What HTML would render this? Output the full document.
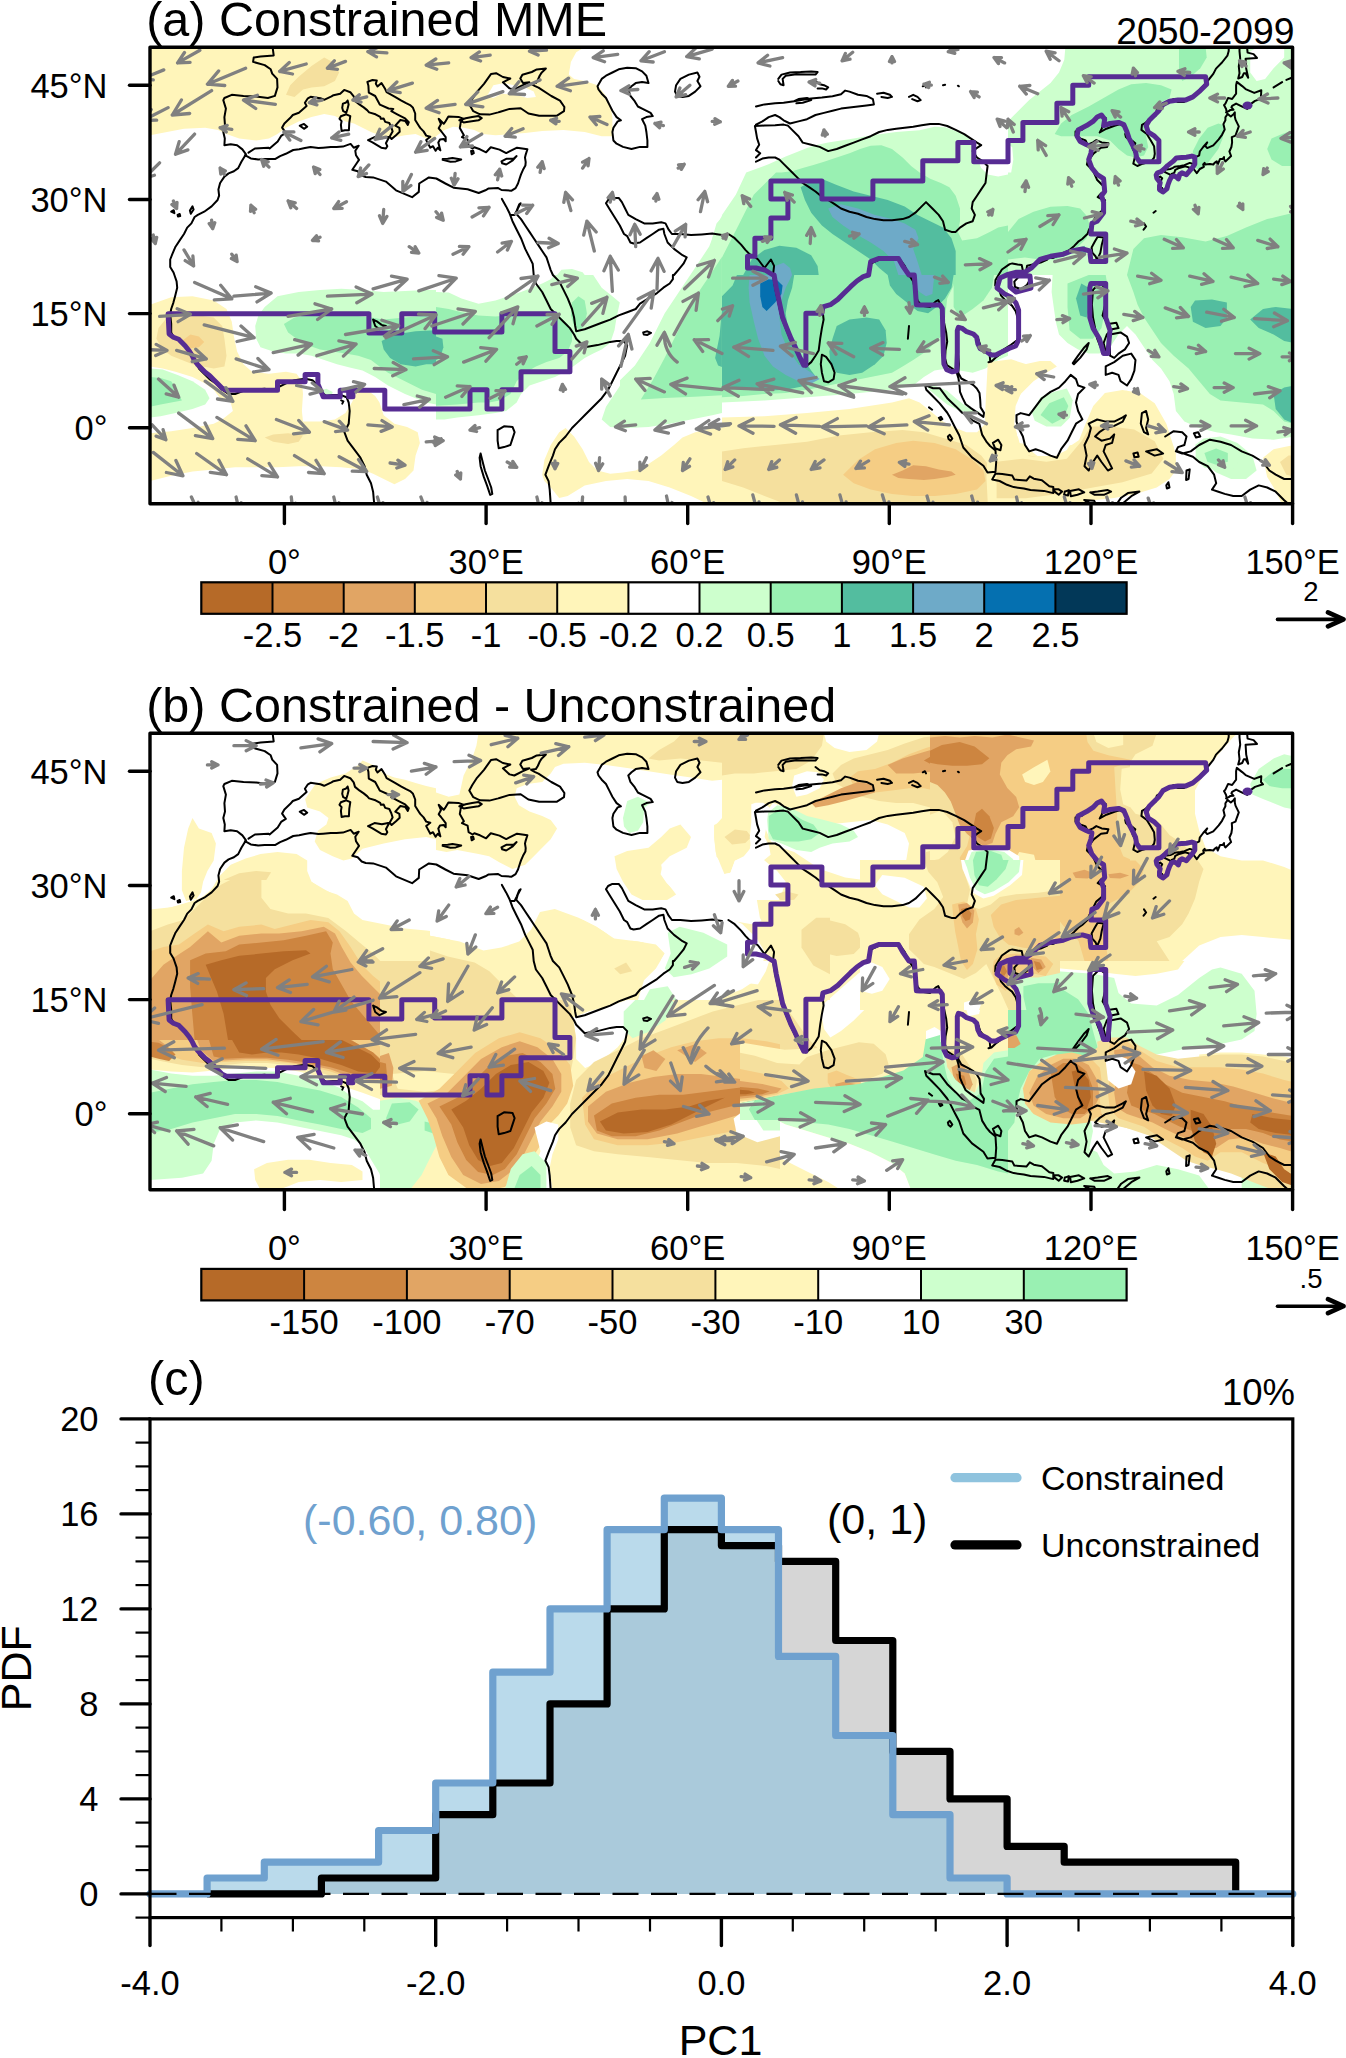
<!DOCTYPE html><html><head><meta charset="utf-8"><style>html,body{margin:0;padding:0;background:#fff;overflow:hidden}svg{display:block}text{font-family:"Liberation Sans", sans-serif}</style></head><body>
<svg width="1346" height="2058" viewBox="0 0 1346 2058">
<defs>
<g id="coast"><path d="M272.8,48.7L273.7,55.5L260.5,56.6L253.7,57.6L253.1,61.9L264.7,65.1L270.7,69.3L272.2,73.6L277.1,78.9L277.5,87.4L274.9,95.9L267.9,98L256.2,96.5L243.5,95.9L231.8,94.8L224.4,98L223.3,100.1L225.9,108.6L224.4,117.1L225,125.6L223.3,132L224.8,138.4L224.4,145.2L230.7,144.3L237.1,145.2L242.4,149.4L246,154.3M246,154.3L241.4,161.7L238.2,168.1L233.9,171.3L228.6,173.4L224.4,176.6L220.1,183L218.4,189.4L219.1,195.7L217.6,200L211.6,206.4L204.2,211.7L197.8,214.9L194.6,217L191.4,223.4L187.2,227.6L184,234L179.7,240.4L175.5,246.7L172.3,254.2L170.2,259.5L170.2,266.9L173.4,272.2L174.4,275M459.4,120.3L465.7,118.2L472.1,117.1L478.5,116.1L481.7,118.2L478.5,120.3L470,121.4L463.6,122.4L459.4,120.3M501.9,198.9L506.1,206.4L509.3,212.7L512.5,221.2L516.7,229.7L521,238.2L525.2,248.9L529.5,257.4L532.7,263.7L533.7,275M511.4,214.9L514.6,214.9L516.7,210.6L519.3,204.2L520.6,203.2L517.8,208.5L516.3,213.8L521,219.1L525.2,225.5L529.5,231.9L533.7,238.2L538,244.6L542.2,251L546.5,257.4L548.6,263.7L550.7,270.1L552.9,275M606,203.2L608.1,200L612.4,197.9L618.7,197.9L621.9,202.1L625.1,208.5L628.3,214.9L635.7,219.1L644.2,223.4L652.7,223.4L661.2,222.3L665.5,223.4L668.7,229.7L671.9,234L680.4,234L691,235L701.6,234.4L712.2,233.6L722,235M606,203.2L609.2,208.5L614.5,217L619.8,225.5L624,234L627.2,236.1L630.4,242.5L633.6,243.5L640,242.5L646.4,238.2L652.7,234L659.1,229.7L663.4,228.7L664.4,234L667.6,242.5L674,248.9L682.5,255.2L686.7,257.4L683.5,263.7L678.2,270.1L674,275M778.3,78.9L781.5,74.6L790,72.5L800.6,72.1L811.2,71.4L817.6,72.1L815.5,74.6L807,74.6L796.4,74.2L785.7,75.7L782.6,78.9L783.6,85.2L780.4,84.2L778.3,81M815.5,81L819.7,84.2L824,85.2L828.2,87.4L826.1,89.5L821.9,88.4L817.6,88.4M756,106.5L764.5,104.4L775.1,103.3L783.6,102.7L794.2,101.2L802.7,99.7L811.2,98.4L821.9,97.6L832.5,96.3L841,94.2L845.2,90.6L849.5,91.6L858,94.8L866.5,95.9L872.9,99.1L873.9,104.4L866.5,105.4L858,106.5L849.5,107.6L841,108.6L832.5,110.7L824,112.9L815.5,115L807,119.2L798.5,121.4L790,123.5L783.6,120.3L779.4,117.1L775.1,115L768.7,117.1L762.4,121.4L756,124.6M794.2,101.2L798.5,99.1L807,98L811.2,100.1L802.7,102.7L796.4,103.3M877.1,93.7L883.5,92.7L889.9,94.8L892,96.9L887.7,98L881.4,96.9M909,96.9L913.2,94.8L917.5,96.9L920.7,100.1L917.5,101.2L912.2,99.1M922.8,86.3L924.9,85.2L926,87.4M943,85.2L945.1,84.8M957.9,85.7L958.9,86.3M787.9,125.6L792.1,129.9L798.5,136.2L802.7,142.6L811.2,144.7L819.7,146.9L828.2,151.1L836.7,149L845.2,145.8L853.7,142.6L862.2,139.4L870.7,136.2L879.2,132L887.7,129.9L896.2,128.8L904.7,127.7L913.2,126.7L921.7,125.2L930.2,123.9L938.7,123.9L947.2,126L955.7,129.9L964.2,134.1L970.6,138.4L977,142.6L981.2,145.2L977,147.9L972.7,151.1L977,157.5L983.4,161.7L987.6,166L986.5,174.5L985.5,183L981.2,189.4L977,195.7L972.7,202.1L971.7,208.5L974.9,214.9L972.7,221.2L966.4,223.4L960,227.6L955.7,231.9L951.5,231.9L945.1,229.7L943,221.2L938.7,214.9L932.4,208.5L926,202.1L921.7,206.4L915.4,212.7L909,217L902.6,219.1L892,220.2L883.5,220.2L875,219.1L866.5,217L858,213.8L849.5,211.7L841,208.5L834.6,204.2L828.2,200L821.9,196.8L815.5,191.5L809.1,187.2L802.7,183L796.4,176.6L790,170.2L783.6,163.9L779.4,159.6L775.1,157.5L768.7,157.5L762.4,158.6L756,161.7M787.9,125.6L783.6,124.6L775.1,125.2L764.5,125.6L754.9,126L756,132L757.1,138.4L759.2,144.7L756,150.1L760.2,153.2L756,157.5M728.4,234L734.7,238.2L741.1,244.6L745.4,249.9L749.6,254.2L753.9,256.3L758.1,259.5L764.5,268L770.9,259.5L774.1,265.9L773,275M868.6,275L870.7,263.7L879.2,259.5L889.9,258.4L898.4,257.4L904.7,265.9L909,275M1273.6,87.4L1282.1,82.1M1286.4,79.9L1291.7,77.8M1153.5,212.7L1155.7,211M1144,223.4L1146.1,226.5L1143.6,229.7M174.4,275L176.6,281.4L177.2,287.7L175.1,296.2L173.4,302.6L171.2,309L170.2,314.3L171.2,323.9L171.2,332.4L173.4,336.6L179.7,340.9L186.1,347.2L192.5,355.7L196.7,362.1L198.9,368.5L203.1,372.7L209.5,379.1L215.9,383.4L222.2,389.7L228.6,394L235,394L243.5,390.8L254.1,389.7L264.7,388.7L271.1,390.8L277.5,387.6L286,383.4L294.5,380.2L305.1,378.7L312.5,380.2L317.9,385.5L322.1,392.9L326.4,396.1L332.7,395.1L341.2,395.1L346.5,397.2L348.7,402.5L349.7,411L348.7,423.7L344.4,432.2L347.6,440.7L354,449.2L360.4,457.7L364.6,466.2L366.7,474.7L371,483.2L373.1,491.7L374.2,504.1M373.1,319.6L377.4,321.7L381.6,324.9L385.9,326L379.5,329.2L375.2,326L373.1,319.6M341.2,400.4L343.4,401.4L342.3,403.6M533.7,275L535.9,283.5L542.2,292L546.5,300.5L550.7,309L557.1,315.4L563.5,321.7L569.9,328.1L574.1,334.5L576.2,338.7L584.7,347.2L597.5,345.1L610.2,341.9L616.6,340.9L623,340.9L627.2,345.1L625.1,355.7L620.9,364.2L616.6,372.7L612.4,381.2L608.1,389.7L601.7,398.2L593.2,406.7L584.7,415.2L578.4,421.6L572,428L565.6,436.5L559.2,442.9L555,449.2L552.9,455.6L548.6,466.2L545.4,474.7L548.6,481.1L549.7,489.6L550.7,504.1M552.9,275L559.2,281.4L563.5,289.9L567.7,298.4L572,309L574.1,317.5L575.2,326L576.2,331.3L584.7,329.2L593.2,326L601.7,322.8L610.2,319.6L618.7,315.4L627.2,312.2L635.7,309L640,303.7L648.5,298.4L657,293.1L663.4,287.7L669.7,283.5L672.9,279.2L672.9,275M497.6,430.1L504,426.3L512.5,426.9L514.6,432.2L512.5,438.6L510.4,445L504,447.1L498.7,448.2L497.6,440.7L497.6,430.1M480.6,453.5L482.7,462L484.9,470.5L488.1,479L491.2,487.5L492.3,493.9L490.2,494.9L487,485.4L483.8,476.9L480.6,466.2L479.6,457.7L480.6,453.5M773,275L775.1,287.7L778.3,302.6L781.5,317.5L785.7,328.1L790,338.7L794.2,347.2L798.5,355.7L802.7,364.2L805.9,366.4L811.2,362.1L815.5,355.7L818.7,350.4L820.2,338.7L821.9,328.1L823.6,319.6L822.9,313.2L824,306.9L830.4,304.7L836.7,300.5L843.1,294.1L849.5,287.7L855.9,281.4L862.2,277.1L868.6,275M909,275L913.2,281.4L915.4,292L917.5,300.5L921.7,305.8L930.2,306.9L935.5,301.6L938.3,300.1L940.6,305L942.3,312.8L943.8,321.7L946.2,332.8L947.2,341.7L945.5,350.6L945.1,358.5L946.8,365.1L952.3,368.5L956.8,373L958.5,378.5L959.6,386.3L960,391.9L962.3,397.4L965.7,404.2L971.2,408.4L977.8,412.9L983.4,416.9L984,412.9L980.6,407.4L980.2,399.7L979.5,392.9L976.8,388.5L973.4,385.1L967.8,381.9L961.3,378.5L958.3,373L958.9,364L958.3,356.2L957.2,347.2L956.8,337.3L957.2,329.6L959.6,326.8L962.3,327.3L965.7,330.7L970,332.8L975.7,335.1L978.5,339.6L980.2,345.1L984.6,350.6L989.5,353L990.2,360.6M909,326L907.9,338.7M929,407.4L932.1,409.7M1016.5,415.2L1020.7,413.1L1029.2,415.2L1035.6,406.7L1042,398.2L1050.5,391.9L1059,387.6L1065.4,381.2L1070.7,374.9L1076,379.1L1078.1,385.5L1084.5,387.6L1078.1,394L1076,402.5L1078.1,411L1082.4,419.5L1076,423.7L1071.7,432.2L1067.5,440.7L1061.1,449.2L1056.9,457.7L1050.5,455.6L1042,451.4L1035.6,449.2L1029.2,451.4L1025,445L1022.9,436.5L1018.6,428L1016.5,421.6L1016.5,415.2M1088.7,423.7L1097.2,419.5L1105.7,421.6L1114.2,421.6L1122.7,417.4L1125.9,415.2L1122.7,421.6L1114.2,425.9L1105.7,428L1099.4,432.2L1095.1,436.5L1101.5,440.7L1110,438.6L1114.2,434.4L1112.1,442.9L1105.7,445L1103.6,451.4L1107.9,459.9L1112.1,468.4L1107.9,470.5L1101.5,462L1097.2,455.6L1093,462L1088.7,470.5L1084.5,466.2L1086.6,455.6L1084.5,445L1088.7,436.5L1090.9,428L1088.7,423.7M1165.2,436.5L1173.7,431.2L1182.2,432.2L1186.5,436.5L1184.4,445L1178,447.1L1175.9,451.4L1182.2,453.5L1190.7,451.4L1199.2,445L1209.9,439.7L1220.5,441.8L1231.1,445L1241.7,451.4L1252.4,455.6L1263,462L1269.4,470.5L1275.7,474.7L1284.2,479L1294,479M1178,451.4L1186.5,454.5L1192.9,456.7L1199.2,462L1207.7,466.2L1214.1,474.7L1216.2,483.2L1212,489.6L1218.4,491.7L1224.7,493.9L1233.2,496L1241.7,496L1250.2,489.6L1258.7,485.4L1267.2,487.5L1275.7,491.7L1284.2,500.2L1288.5,504.1M299.8,125.6L304,123.9L307.2,126.7L304,128.8ZM171.2,211.7L173.8,210.2L174.4,213.2ZM177.6,214.9L179.7,214L180.2,216.1L178,216.6ZM189.9,210.6L192.5,206.4L193.6,209.5L190.8,213.8ZM597.5,86.3L601.7,78.9L606,75.7L612.4,72.5L618.7,69.3L627.2,67.8L635.7,68.2L642.1,71.4L646.4,75.7L648.5,83.1L642.1,82.1L635.7,83.1L631.5,86.3L628.3,89.5L630.4,95.9L634.7,101.2L637.9,106.5L642.1,108.6L650.6,112.9L652.7,116.1L646.4,117.1L642.1,119.2L645.3,125.6L646.4,132L647.4,140.5L647.4,146.9L640,146.9L631.5,149L623,146.9L616.6,143.7L613.4,140.5L612.4,132L613.4,127.7L617.7,121.4L620.9,120.3L616.6,117.1L612.4,110.7L609.2,104.4L606,98L601.7,93.7L598.5,89.5ZM676.1,85.2L680.4,78.9L688.9,74.6L697.4,72.5L699.5,76.7L697.4,81L700.5,86.3L695.2,91.6L688.9,95.9L682.5,96.9L677.2,95.9L675,91.6ZM471.1,151.1L473.2,150.7L473.8,153.2L471.7,154.3ZM643.2,332.4L647.4,331.3L651,332.8L647.4,334.9L643.8,334.5ZM821.9,354.7L826.1,356.8L831.4,364.2L834.6,372.7L833.6,379.1L828.2,382.3L824,381.2L821.9,372.7L820.8,364.2ZM992.9,442.9L998.2,439.7L1001.4,445L1000.4,450.3L995,448.2ZM938.9,417.8L940.9,416.9L942.3,419.1L940.4,420.1ZM947.9,436.5L949.8,434.8L952.3,438.6L950.6,440.7L948.5,439ZM1093,289.9L1099.4,283.5L1105.7,287.7L1105.7,302.6L1102.6,315.4L1107.9,323.9L1116.4,322.8L1118.5,328.1L1112.1,329.2L1106.8,334.5L1103.6,343L1105.7,351.5L1101.5,349.4L1097.2,338.7L1095.1,328.1L1093,317.5L1091.9,304.7ZM1110,334.5L1120.6,332.4L1127,336.6L1129.1,343L1124.9,349.4L1118.5,353.6L1114.2,357.9L1110,355.7ZM1105.7,366.4L1114.2,362.1L1122.7,355.7L1131.2,353.6L1135.5,360L1134.4,370.6L1131.2,379.1L1127,385.5L1120.6,381.2L1118.5,374.9L1112.1,372.7L1105.7,374.9ZM1072.8,363.2L1078.1,355.7L1084.5,347.2L1088.7,343L1086.6,349.4L1080.2,357.9L1073.9,364.2ZM1141.9,413.1L1146.1,411L1148.2,419.5L1146.1,428L1148.2,434.4L1144,432.2L1140.8,423.7ZM1146.1,451.4L1156.7,449.2L1163.1,453.5L1154.6,455.6ZM1133.4,453.5L1137.6,452.4L1138.7,456.7L1134.4,457.3ZM1193.9,433.3L1198.2,432.2L1200.3,436.5L1196,437.5ZM1186.5,470.5L1189.7,469.4L1188.6,479L1186.1,480ZM1166.3,485.4L1168.4,482.2L1169.5,487.5L1166.9,488.5ZM925.0,385.1L933.0,388.2L939.7,388.2L947.8,398.8L955.9,406.4L961.9,412.5L966.6,414.8L972.0,420.1L979.4,423.9L982.1,434.6L986.8,442.2L990.1,446.0L995.5,450.5L996.2,462.0L995.5,471.8L987.5,472.6L983.4,465.8L972.0,457.4L963.3,447.5L959.2,435.3L955.2,427.7L949.8,417.1L947.1,412.5L939.7,403.4L932.3,395.8L926.3,389.7L925.0,385.1M995.5,473.4L1002.2,474.1L1012.3,475.6L1014.3,479.5L1026.4,480.6L1029.8,476.4L1033.8,478.7L1041.9,480.2L1049.3,486.3L1053.3,487.1L1053.3,493.1L1043.9,490.9L1030.5,490.1L1023.8,488.6L1013.7,487.1L1007.0,484.8L999.6,481.0L992.2,479.5L995.5,473.4M1054.0,489.3L1058.7,489.3L1062.1,491.6L1058.7,494.7L1054.7,491.6L1054.0,489.3M1064.8,491.6L1068.8,490.1L1068.1,495.4L1064.1,494.7L1064.8,491.6M1070.1,490.9L1078.9,489.3L1084.2,492.4L1077.5,494.7L1070.8,496.2L1070.1,490.9M1090.3,492.4L1097.7,491.6L1107.8,490.1L1111.1,491.6L1104.4,494.7L1094.3,494.7L1090.3,492.4M1084.2,500.0L1094.3,500.8L1096.3,505.3L1087.6,502.3L1084.2,500.0M1115.2,506.1L1121.2,497.7L1127.9,493.1L1139.4,491.6L1131.3,496.2L1120.5,505.3L1115.2,506.1M248.5,152.7L254.9,148.5L268.3,147.7L269.6,148.5L277.7,141.6L281.1,135.9L285.8,132.9L282.1,127.6L284.4,123.4L290.1,118.1L292.8,115.0L298.9,112.7L306.6,105.9L304.9,102.8L307.9,98.3L310.6,96.8L315.3,97.5L320.4,98.3L324.1,99.8L331.5,96.4L333.5,95.2L340.2,93.7L344.2,89.9L350.3,92.2L353.7,96.4L355.0,100.9L359.7,104.7L363.7,107.4L367.1,110.1L369.1,112.4L375.5,114.3L380.2,116.9L380.9,118.8L383.6,118.4L385.2,121.9L389.3,123.0L391.3,127.2L392.6,131.4L389.6,136.7L391.6,139.0L396.0,135.2L399.7,131.8L399.4,127.9L395.3,125.7L400.4,120.0L405.4,121.1L407.8,124.9L408.8,122.2L405.1,118.4L397.7,114.6L391.3,111.2L393.3,108.9L388.6,108.5L379.9,104.7L375.2,96.0L368.8,92.6L368.4,85.7L367.4,81.9L372.5,80.0L376.8,80.4L375.8,83.8L377.5,86.5L381.5,83.1L385.2,89.1L386.6,92.2L395.0,96.8L401.4,100.6L406.1,103.2L410.1,105.1L412.8,107.4L415.2,113.5L415.2,120.0L418.8,125.7L420.2,127.9L423.6,131.4L426.2,135.6L430.3,136.7L426.2,140.1L430.3,147.7L433.0,146.2L435.6,150.8L437.7,147.7L440.4,150.4L438.3,142.4L440.0,139.4L443.7,139.0L445.7,141.3L445.7,137.1L441.0,131.0L438.7,128.3L441.0,124.1L438.7,118.8L443.7,123.8L445.7,121.1L448.4,116.5L458.5,116.9L463.2,118.8L460.5,123.0M460.5,123.8L459.8,127.9L463.9,135.2L461.9,137.1L467.6,139.7L468.6,146.2L472.6,148.5L474.3,147.3L480.0,149.3L486.1,152.3L490.8,147.3L499.5,149.6L506.2,153.1L517.0,147.7L527.4,149.3L525.7,154.6L525.0,157.6L525.7,162.2L525.4,165.6L523.0,169.8L521.0,174.4L519.7,178.2L518.0,183.5L515.6,188.1L511.6,190.7L501.5,190.0L498.2,188.1L488.7,188.4L485.4,190.3L478.7,193.0L467.6,189.2L453.5,187.7L445.4,183.5L436.3,178.5L428.9,177.4L419.2,183.5L418.8,191.9L412.1,197.2L396.0,190.3L385.9,181.6L373.1,177.4L365.7,177.0L361.7,175.5L357.7,171.3L352.3,169.8L356.7,163.3L359.0,159.9L356.0,155.3L355.3,150.8L358.7,145.8L353.7,147.7L350.6,143.9L342.9,146.6L336.5,147.0L330.8,147.0L323.1,147.7L318.4,148.1L310.6,147.0L304.9,148.1L299.2,149.3L293.2,150.0L285.8,153.8L280.1,156.1L275.0,159.1L264.6,159.1L258.2,159.5L250.8,158.4L245.4,155.3L244.8,155.3M480.0,114.3L473.3,111.2L469.3,104.4L472.3,99.0L477.0,91.8L484.0,83.8L491.1,73.9L496.1,73.2L502.9,77.0L510.3,78.5L502.9,82.3L509.6,88.4L514.3,89.5L522.4,85.3L529.4,82.3L523.0,83.1L520.3,78.5L522.4,74.7L531.8,72.0L536.8,69.4L545.9,68.6L541.8,72.4L539.8,75.5L537.8,80.0L535.8,83.1L531.1,83.8L535.1,86.1L538.5,87.6L551.3,96.0L560.0,100.6L564.4,107.0L564.0,111.2L556.6,115.8L551.3,115.8L539.2,115.8L528.4,113.5L520.7,108.2L509.6,108.9L499.5,112.0L498.2,112.4L489.4,114.6L480.0,114.3M368.1,140.1L374.5,137.1L381.9,138.2L389.3,136.7L385.9,143.2L387.3,146.2L385.9,148.5L381.2,147.7L372.5,142.4L368.1,140.1M340.9,116.2L346.3,114.3L350.3,116.2L349.3,122.6L348.9,130.2L344.9,130.2L341.6,131.0L340.9,124.9L341.6,121.1L339.5,118.8L340.9,116.2M347.6,100.6L348.6,104.4L347.6,108.5L346.3,112.7L343.2,111.2L342.2,107.8L342.9,103.6L345.6,102.8L347.6,100.6M442.7,159.1L447.7,158.8L452.5,158.0L461.2,159.5L455.8,161.4L450.4,161.8L442.7,159.9L442.7,159.1M501.5,161.4L506.2,158.8L513.6,158.8L516.6,156.1L512.3,160.7L506.2,164.5L502.2,163.3L501.5,161.4M1164.2,169.0L1167.6,165.6L1173.0,161.4L1176.3,158.0L1181.7,157.6L1186.4,157.2L1191.8,156.1L1194.5,157.2L1197.8,156.1L1199.2,155.3L1199.8,151.5L1203.2,147.0L1207.2,142.4L1205.2,145.8L1207.2,148.1L1213.3,145.4L1218.7,139.4L1222.0,134.8L1224.7,129.5L1223.4,124.1L1225.4,120.3L1225.4,117.3L1227.7,113.9L1230.8,116.5L1233.5,114.3L1234.8,112.4L1234.8,116.5L1235.5,119.6L1238.8,126.4L1236.8,131.8L1235.5,135.6L1231.8,137.1L1232.1,142.4L1231.4,147.0L1229.4,151.5L1231.1,156.1L1225.4,161.4L1224.0,159.1L1224.0,156.9L1222.7,159.1L1220.0,159.1L1217.7,164.5L1216.7,161.4L1214.6,162.9L1213.3,164.5L1209.9,164.1L1205.2,164.5L1204.6,162.9L1203.2,164.5L1203.9,166.8L1199.8,169.0L1196.8,173.2L1192.5,167.5L1194.5,164.1L1192.5,163.7L1189.8,162.9L1184.4,165.2L1180.4,166.0L1174.6,166.8L1173.0,167.9L1170.3,169.0L1166.9,169.4L1164.2,169.0M1164.2,169.8L1164.9,172.1L1169.6,174.4L1171.6,176.6L1169.6,180.4L1167.9,185.0L1166.9,188.8L1162.9,191.9L1162.2,188.1L1159.5,189.6L1159.5,185.8L1160.2,182.7L1162.2,178.2L1160.2,176.6L1156.8,178.2L1156.2,175.1L1157.5,172.8L1160.9,171.7L1164.2,169.8M1175.3,169.8L1178.3,168.3L1185.4,166.4L1189.1,167.5L1189.1,169.0L1189.8,170.6L1186.4,174.7L1182.0,172.8L1179.7,174.4L1178.3,178.9L1176.3,177.0L1175.0,175.1L1171.6,174.0L1174.3,172.8L1175.3,169.8M1230.1,110.1L1233.5,109.7L1231.4,107.4L1232.1,105.9L1236.1,103.6L1242.2,106.6L1247.2,108.9L1248.2,105.9L1255.0,100.9L1263.0,98.3L1261.0,96.0L1261.3,90.3L1254.3,92.9L1245.6,89.1L1242.2,86.1L1236.8,81.9L1236.1,85.3L1236.1,93.7L1232.1,99.0L1228.1,97.9L1225.4,103.6L1224.0,105.1L1226.1,108.9L1226.7,112.7L1226.1,112.4L1228.7,111.2L1230.1,110.1M1238.2,78.5L1239.5,73.2L1238.8,66.3L1240.2,58.7L1239.5,51.1L1239.5,45.8M1238.2,78.5L1242.2,77.0L1243.9,73.2L1245.6,73.2L1248.2,77.7L1246.2,68.6L1245.6,58.7L1257.0,58.0L1253.6,54.1L1247.6,52.6L1246.9,45.8M1162.9,105.9L1168.3,102.1L1173.6,99.0L1177.7,102.1L1183.7,102.1L1192.5,96.8L1200.5,89.1L1207.2,81.5L1213.3,73.9L1216.0,68.6L1222.0,62.5L1227.4,55.7L1228.7,51.1L1228.7,45.8M1162.9,105.9L1156.8,109.7L1155.5,115.8L1150.1,118.8L1144.7,123.4L1142.0,124.9L1141.4,129.9L1146.8,134.0L1150.8,140.5L1154.1,146.2L1154.8,153.8L1154.1,157.6L1151.8,160.7L1148.1,162.2L1142.7,163.7L1137.3,166.0L1133.3,163.7L1134.7,157.6L1135.3,153.8L1132.6,148.5L1135.3,143.2L1132.6,140.9L1128.6,139.4L1125.9,137.1L1125.2,134.0L1126.6,131.8L1124.6,127.2L1120.5,124.1M1120.5,124.1L1114.5,125.7L1106.4,128.7L1099.7,132.5L1101.7,128.7L1103.7,123.4L1105.8,118.1L1103.1,116.5L1098.4,117.3L1096.3,118.8L1088.3,124.1L1082.2,129.5L1075.5,131.4L1075.5,135.6L1080.9,138.6L1085.6,140.5L1087.6,144.7L1093.0,142.4L1096.3,140.1L1101.7,142.4L1108.4,143.2L1107.1,147.0L1101.0,147.7L1093.7,153.4L1087.6,161.4L1086.9,164.5L1093.0,170.6L1097.0,179.7L1103.7,186.5L1104.1,191.9L1101.0,193.4L1097.7,197.2L1102.4,199.5L1105.1,200.2L1103.7,205.6L1101.7,210.9L1096.3,215.4L1093.7,220.8L1088.9,229.9L1087.6,233.7L1082.2,239.0L1078.2,241.7L1074.2,245.9L1068.8,250.4L1060.7,254.2L1052.7,258.1L1047.9,257.3L1047.3,259.6L1040.6,262.6L1027.1,265.7L1025.8,273.3L1023.1,271.7L1021.7,264.9L1017.7,264.5L1012.3,263.4L1009.6,264.1L1001.9,269.5L998.2,275.6L995.5,280.1L995.2,285.4L999.6,290.8L1000.9,295.3L1004.9,299.9L1007.6,302.2L1012.0,305.6L1015.7,311.3L1016.4,313.6L1018.7,322.7L1019.0,328.8L1018.4,334.5L1018.4,337.2L1017.0,340.2L1011.0,344.8L1004.3,349.0L1001.6,350.9L999.6,354.7L995.5,357.7L991.5,361.5L988.5,362.3M1097.7,236.7L1103.7,237.5L1101.7,245.1L1100.4,252.7L1097.0,260.3L1095.7,256.5L1092.3,252.7L1091.6,247.4L1095.0,241.3L1097.7,236.7M1025.1,274.8L1028.5,274.8L1030.5,278.6L1027.1,284.7L1021.1,289.2L1015.0,287.0L1014.3,281.6L1018.4,277.1L1021.7,275.6L1025.1,274.8" fill="none" stroke="#000" stroke-width="2" stroke-linejoin="round" stroke-linecap="round"/></g>
<g id="purple"><path d="M168.1,313.8L368.9,313.8L368.9,332.9L401.8,332.9L401.8,313.8L434.7,313.8L434.7,332L501.9,332L501.9,313.8L555,313.8L555,351.5L569.9,351.5L569.9,371.7L521,371.7L521,389.7L501.9,389.7L501.9,408.9L487,408.9L487,389.7L470,389.7L470,408.9L384.8,408.9L384.8,390.3L352.9,390.3L352.9,396.7L348.7,396.7L348.7,390.3L340.2,390.3L340.2,396.7L323.2,396.7L317.9,383.9L317.9,374.4L305.1,374.4L305.1,381.8L277.5,381.8L277.5,390.3L226.5,390.3L222.2,388.2L218,384L213.7,379.7L209.5,375.4L205.2,372.2L201,368L197.8,364.8L194.6,360.6L192.5,356.3L189.3,351L185.1,345.7L181.9,342.5L178.7,339.3L173.4,337.2L169.1,334ZM747.5,268L747.5,256.3L754.9,256.3L754.9,238.2L770.9,238.2L770.9,218.1L787.9,218.1L787.9,198.9L770.9,198.9L770.9,180.9L821.9,180.9L821.9,198.9L872.9,198.9L872.9,180.9L922.8,180.9L922.8,160.7L957.9,160.7L957.9,142.6L973.8,142.6L973.8,161.7L1008,161.7L1008,140.5L1022.9,140.5L1022.9,122.4L1056.9,122.4L1056.9,103.3L1072.8,103.3L1072.8,85.2L1088.7,85.2L1088.7,76.7L1205.6,76.7L1206.7,84.2L1200.3,90.6L1192.9,96.9L1185.4,100.1L1178,100.1L1169.5,101.2L1163.1,104.4L1158.9,110.7L1154.6,115L1149.3,120.3L1146.1,125.6L1148.2,132L1154.6,136.2L1158.9,140.5L1158.9,161.7L1139.7,161.7L1136.6,157.5L1135.5,151.1L1132.3,144.7L1129.1,138.4L1127,132L1123.8,124.6L1118.5,122.4L1110,123.5L1103.6,125.6L1104.7,119.2L1101.5,115L1097.2,117.1L1093,121.4L1086.6,125.6L1078.1,129.9L1077.1,136.2L1080.2,141.6L1086.6,144.7L1091.9,146.9L1090.9,153.2L1088.7,159.6L1091.9,168.1L1097.2,174.5L1103.6,178.7L1104.7,191.5L1101.5,195.7L1103.6,202.1L1103.6,212.7L1097.2,221.2L1091.9,223.4L1090.9,234L1105.7,234L1105.7,261.6L1090.9,261.6L1089.8,251L1082.4,248.9L1071.7,251L1063.2,254.2L1050.5,256.3L1039.9,259.5L1031.4,268L1025,272.2L1016.5,272.2L1008,274.4L1000,278L997,288L1004.6,293.9L1011.2,297.3L1016,303L1018.6,310L1018.6,340L1015.7,346L1009,348.4L1002.3,351.8L995.7,355.1L991.2,355.1L986.8,351.8L980.1,348.4L977.9,344L976.7,337.3L973.4,334L966.7,331.7L962.3,328.4L958.4,327.3L957.3,330.6L957.3,352.9L956.7,370.7L952.3,371.8L946.7,369.6L943.9,364L943.4,352.9L942.8,330.6L942.3,308.4L940,305L920,305L916.4,304.7L914.3,275L909,275L902.6,265.9L898.4,258.4L879.2,258.4L870.7,261.6L868.6,275L863.3,276.7L856.9,281L850.6,286.7L844.2,293.1L837.8,299.4L830.4,304.7L822.9,306.9L821.9,313.2L805.9,313.2L805.9,365.3L803.8,365.3L799.6,356.8L795.3,347.2L791.1,338.7L786.8,328.1L782.6,317.5L779.4,302.6L776.2,287.7L774.1,275L773,275L765,270L756,268ZM1164.2,169L1167.6,165.6L1173,161.4L1176.3,158L1181.7,157.6L1186.4,157.2L1191.8,156.1L1194.8,157.2L1194.8,164.1L1192.5,167.5L1189.8,170.6L1186.4,174.7L1182,172.8L1179.7,174.4L1178.3,178.9L1176.3,177L1174.3,175.9L1171.6,176.6L1169.6,180.4L1167.9,185L1166.9,188.8L1162.9,191.9L1159.5,189.6L1159.5,185.8L1160.2,182.7L1156.8,178.2L1156.2,175.1L1157.5,172.8L1160.9,171.7ZM1090.9,283.5L1105.7,283.5L1105.7,317.5L1110,330.2L1107.9,353.6L1103.6,353.6L1099.4,338.7L1093,328.1L1089.8,317.5L1089.8,287.7ZM1010,276L1030,276L1031,288L1016,292L1010,287Z" fill="none" stroke="#572C93" stroke-width="5" stroke-linejoin="round"/><ellipse cx="1247.5" cy="105.5" rx="5" ry="4" fill="#572C93"/></g>
</defs>
<clipPath id="clip0"><rect x="150.0" y="47.3" width="1142.6" height="456.5"/></clipPath>
<g clip-path="url(#clip0)">
<g transform="translate(0,0)">
<polygon points="150,47 436,47 436,139.4 426.2,138.4 415.6,134.1 405,135.2 394.4,137.3 388,138.4 379.5,135.2 371,132 362.5,127.7 354,123.5 345.5,121.4 334.9,116.1 324.2,113.9 311.5,117.1 298.7,121.4 286,127.7 277.5,134.1 269,138.4 256.2,140.5 239.2,138.4 226.5,134.1 218,129.9 205.2,127.7 184,128.8 167,132 150,135.2" fill="#FFF5BA"/>
<polygon points="286,94.8 290.2,85.2 298.7,76.7 311.5,66.1 324.2,57.6 332.7,61.9 339.1,72.5 334.9,81 324.2,86.3 311.5,87.4 303,89.5 294.5,96.9" fill="#F5E09E"/>
<polygon points="436,47 584.7,47 576.2,52.3 570.9,61.9 568.8,74.6 574.1,78.9 584.7,81 597.5,85.2 606,95.9 610.2,104.4 612.4,117.1 612.4,136.2 601.7,136.2 584.7,132 563.5,129.9 542.2,130.9 525.2,133.1 510.4,134.1 495.5,135.2 482.7,134.1 474.2,129.9 463.6,127.7 453,126.7 444.5,129.9 436,136.2" fill="#FFF5BA"/>
<polygon points="487,95.9 493.4,85.2 504,83.1 514.6,85.2 525.2,87.4 533.7,91.6 535.9,96.9 527.4,98 514.6,94.8 501.9,93.7 493.4,98" fill="#FFFFFF"/>
<polygon points="722,217 716.5,223.4 712.2,238.2 710.1,251 705.9,261.6 699.5,275 722,275" fill="#CDFFCD"/>
<polygon points="557.1,275 561.4,269.7 572,269 582.6,272.2 584.7,275" fill="#CDFFCD"/>
<polygon points="722,214.9 735.8,194.7 746.2,172.4 768.5,164.3 785.7,156.4 796.4,152.2 807,147.9 817.6,144.7 828.2,142.6 841,140.5 853.7,138.4 866.5,136.2 881.4,134.1 896.2,132 909,130.9 919.6,130.3 926,128.8 934.5,126.7 945.1,127.3 955.7,130.9 964.2,134.1 970.6,140.5 974.9,146.9 977,157.5 981.2,168.1 987.6,174.5 998.2,176.6 1008,174.5 1008,275 722,275" fill="#CDFFCD"/>
<polygon points="722,257.4 739,224.2 753.7,194.7 776,172.4 781.5,172.4 792.1,171.3 802.7,168.1 813.4,164.9 824,161.7 836.7,157.5 849.5,153.2 860.1,149 870.7,145.8 881.4,145.2 892,149 902.6,157.5 911.1,166 919.6,172.4 930.2,178.7 940.9,183 949.4,187.2 955.7,195.7 960,208.5 960,221.2 957.9,231.9 962.1,240.4 977,238.2 989.7,231.9 998.2,227.6 1008,225.5 1008,275 722,275" fill="#99F0B2"/>
<polygon points="800.6,187.2 811.2,180.9 824,179.8 836.7,185.1 853.7,191.5 870.7,195.7 887.7,200 904.7,206.4 917.5,214.9 930.2,221.2 943,227.6 951.5,238.2 955.7,251 955.7,275 887.7,275 879.2,268 870.7,259.5 858,251 845.2,242.5 832.5,234 821.9,225.5 811.2,212.7 804.9,200" fill="#53BD9F"/>
<polygon points="743.2,275 751.7,259.5 764.5,249.9 779.4,245.7 796.4,247.8 811.2,255.2 817.6,265.9 818.7,275" fill="#53BD9F"/>
<polygon points="828.2,208.5 841,204.2 858,208.5 875,214.9 892,219.1 904.7,223.4 915.4,229.7 918.5,238.2 913.2,248.9 917.5,261.6 921.7,275 898.4,275 894.1,261.6 883.5,251 870.7,242.5 855.9,234 843.1,225.5 832.5,217" fill="#6EAAC8"/>
<polygon points="773,275 775.1,265.9 783.6,262.7 790,268 792.1,275" fill="#6EAAC8"/>
<polygon points="1008,47 1294,47 1294,275 1008,275" fill="#CDFFCD"/>
<polygon points="1008,47 1065.4,47 1064.3,59.7 1059,72.5 1050.5,83.1 1039.9,91.6 1029.2,100.1 1020.7,108.6 1012.2,117.1 1008,121.4" fill="#FFFFFF"/>
<polygon points="1008,144.7 1012.2,146.9 1013.3,159.6 1011.2,172.4 1008,172.4" fill="#FFFFFF"/>
<polygon points="1250.2,51.2 1258.7,47 1284.2,47 1284.2,57.6 1273.6,68.2 1265.1,78.9 1256.6,81 1250.2,72.5" fill="#FFFFFF"/>
<polygon points="1179,47 1205.6,47 1206.7,57.6 1200.3,68.2 1190.7,76.7 1182.2,81 1179,72.5" fill="#99F0B2"/>
<polygon points="1054.7,134.1 1061.1,123.5 1071.7,115 1088.7,106.5 1103.6,98 1118.5,89.5 1131.2,84.2 1146.1,83.1 1161,85.2 1171.6,89.5 1169.5,98 1161,102.2 1154.6,110.7 1148.2,119.2 1144,127.7 1146.1,136.2 1148.2,146.9 1144,155.4 1135.5,157.5 1127,155.4 1118.5,149 1110,140.5 1097.2,136.2 1084.5,136.2 1071.7,136.2 1061.1,136.2" fill="#99F0B2"/>
<polygon points="1192.9,151.1 1199.2,138.4 1207.7,127.7 1218.4,123.5 1224.7,125.6 1222.6,138.4 1218.4,149 1212,157.5 1205.6,166 1199.2,170.2 1192.9,166" fill="#99F0B2"/>
<polygon points="1267.2,149 1271.5,138.4 1282.1,134.1 1294,129.9 1294,166 1282.1,166 1271.5,159.6" fill="#99F0B2"/>
<polygon points="1008,231.9 1018.6,219.1 1033.5,211.7 1050.5,206.8 1067.5,205.9 1080.2,208.5 1087.7,217 1089.8,227.6 1086.6,238.2 1078.1,246.7 1067.5,255.2 1054.7,259.5 1039.9,259.5 1025,257.4 1008,259.5" fill="#99F0B2"/>
<polygon points="1127,275 1133.4,248.9 1144,238.2 1161,235 1182.2,237.2 1205.6,241.4 1226.9,236.1 1246,227.6 1267.2,219.1 1284.2,214.9 1294,212.7 1294,275" fill="#99F0B2"/>
<polygon points="1080.2,247.8 1084.5,245.7 1087,251 1084.5,256.3 1080.7,254.2" fill="#53BD9F"/>
<polygon points="150,304.7 171.2,297.3 192.5,296.2 213.7,300.5 226.5,309 231.8,321.7 233.9,336.6 237.1,351.5 243.5,364.2 252,371.7 269,373.8 286,371.7 296.6,373.8 301.9,381.2 303,394 301.9,411 303,421.6 320,421.6 334.9,419.5 345.5,413.1 351.9,402.5 360.4,383.4 366.7,389.7 375.2,396.1 379.5,402.5 383.7,415.2 394.4,423.7 407.1,426.9 417.7,432.2 419.9,442.9 415.6,455.6 413.5,470.5 405,479 394.4,484.3 383.7,479 373.1,473.7 362.5,469.4 341.2,467.3 320,466.2 298.7,466.2 277.5,467.3 256.2,467.3 235,467.3 213.7,469.4 192.5,471.5 171.2,475.8 150,481.1" fill="#FFF5BA"/>
<polygon points="150,366.4 162.7,368.5 175.5,371.7 192.5,377 205.2,383.4 213.7,389.7 220.1,398.2 230.7,402.5 232.9,411 222.2,419.5 213.7,423.7 192.5,428 171.2,431.2 150,433.3" fill="#FFFFFF"/>
<polygon points="150,368.5 162.7,369.6 177.6,374.9 192.5,381.2 205.2,389.7 209.5,398.2 205.2,404.6 192.5,408.9 175.5,413.1 160.6,416.3 150,417.4" fill="#CDFFCD"/>
<polygon points="150,377 160.6,378.1 171.2,381.2 175.5,387.6 179.7,396.1 181.9,400.4 171.2,402.5 160.6,404.6 150,406.7" fill="#99F0B2"/>
<polygon points="158.5,328.1 167,317.5 181.9,313.2 198.9,315.4 213.7,317.5 222.2,326 224.4,338.7 226.5,355.7 224.4,366.4 213.7,368.5 203.1,366.4 192.5,364.2 181.9,360 171.2,355.7 162.7,349.4 156.4,338.7" fill="#F5E09E"/>
<polygon points="181.9,340.9 190.4,334.5 198.9,336.6 204.2,341.9 198.9,347.2 190.4,348.3 184,345.1" fill="#F5CD84"/>
<polygon points="264.7,437.5 273.2,434.4 288.1,433.3 303,435.4 298.7,441.8 288.1,443.9 273.2,441.8" fill="#F5E09E"/>
<polygon points="264.7,306.9 277.5,296.2 298.7,292 320,289.9 341.2,288.8 362.5,289.9 383.7,292 405,290.9 426.2,289.9 436,289.9 436,404.6 426.2,402.5 405,394 388,385.5 375.2,377 362.5,370.6 349.7,367.4 337,364.2 324.2,360 311.5,355.7 298.7,353.6 286,353.6 273.2,351.5 260.5,347.2 256.2,338.7 255.2,326 258.4,315.4" fill="#CDFFCD"/>
<polygon points="320,390.8 326.4,388.7 332.7,391.9 330.6,398.2 324.2,399.3" fill="#CDFFCD"/>
<polygon points="283.9,323.9 294.5,317.5 311.5,314.3 332.7,313.2 354,315.4 371,317.5 383.7,319.6 405,317.5 426.2,315.4 436,314.3 436,394 422,389.7 405,381.2 388,372.7 379.5,366.4 371,360 358.2,355.7 345.5,353.6 332.7,351.5 320,349.4 307.2,345.1 296.6,338.7 288.1,332.4" fill="#99F0B2"/>
<polygon points="381.6,340.9 394.4,334.5 415.6,331.3 436,330.2 436,364.2 426.2,364.2 415.6,366.4 400.7,364.2 390.1,357.9 383.7,349.4" fill="#53BD9F"/>
<polygon points="436,292 448.7,292.4 461.5,298.4 478.5,303.7 495.5,300.5 508.2,296.2 521,292 531.6,287.7 542.2,283.5 550.7,279.2 555,275 593.2,275 601.7,287.7 612.4,296.2 619.8,302.6 616.6,317.5 614.5,330.2 610.2,343 601.7,349.4 593.2,353.6 584.7,357.9 576.2,364.2 567.7,370.6 555,377 542.2,381.2 529.5,385.5 521,394 516.7,402.5 506.1,411 495.5,413.1 478.5,415.2 457.2,417.4 444.5,419.5 436,419.5" fill="#CDFFCD"/>
<polygon points="436,306.9 448.7,309 461.5,312.2 478.5,315.4 495.5,316.4 508.2,315.4 521,313.2 533.7,312.2 546.5,313.2 559.2,316.4 567.7,323.9 572,332.4 572,340.9 567.7,351.5 559.2,357.9 546.5,362.1 535.9,366.4 525.2,372.7 516.7,381.2 510.4,394 499.7,400.4 489.1,402.5 478.5,402.5 457.2,404.6 436,405.7" fill="#99F0B2"/>
<polygon points="572,302.6 578.4,296.2 584.7,300.5 586.9,313.2 584.7,323.9 580.5,330.2 574.1,326 570.9,315.4" fill="#99F0B2"/>
<polygon points="436,336.6 442.4,338.7 443.4,347.2 440.2,357.9 436,360" fill="#53BD9F"/>
<polygon points="601.7,419.5 606,406.7 614.5,394 623,381.2 631.5,370.6 644.2,364.2 654.9,353.6 663.4,338.7 665.5,326 669.7,317.5 680.4,306.9 691,296.2 701.6,287.7 710.1,281.4 716.5,275 722,275 722,413.1 712.2,415.2 691,419.5 669.7,423.7 648.5,426.9 627.2,428 610.2,426.9" fill="#CDFFCD"/>
<polygon points="640,400.4 648.5,391.9 657,381.2 665.5,370.6 676.1,360 686.7,347.2 695.2,334.5 703.7,321.7 712.2,306.9 718.6,296.2 722,292 722,398.2 712.2,396.1 691,396.1 669.7,398.2 648.5,401.4" fill="#99F0B2"/>
<polygon points="714.4,355.7 718.6,343 722,336.6 722,364.2 716.5,362.1" fill="#53BD9F"/>
<polygon points="542.2,474.7 544.4,459.9 550.7,445 559.2,432.2 565.6,428 574.1,436.5 582.6,449.2 589,462 597.5,470.5 610.2,473.7 623,472.6 635.7,470.5 648.5,464.1 661.2,455.6 674,445 682.5,437.5 695.2,432.2 712.2,428 722,428 722,504.1 708,504.1 691,496 669.7,487.5 648.5,481.1 627.2,479 606,481.1 584.7,485.4 567.7,496 559.2,498.1 550.7,487.5 544.4,481.1" fill="#FFF5BA"/>
<polygon points="722,275 1008,275 1008,355.7 998.2,360 985.5,368.5 972.7,372.7 960,370.6 947.2,368.5 934.5,370.6 923.9,377 913.2,385.5 892,389.7 849.5,394 807,397.2 764.5,400.4 722,402.5" fill="#CDFFCD"/>
<polygon points="926.6,385.1 936.6,386.6 947.2,390.8 955.7,398.2 966.4,406.7 977,411 980.2,411.8 972.7,413.1 960,411 947.2,404.6 936.6,396.1 929.2,389.7" fill="#CDFFCD"/>
<polygon points="722,417.4 764.5,416.3 807,413.1 849.5,408.9 892,402.5 909,398.2 919.6,402.5 930.2,411 943,421.6 955.7,428 966.4,432.2 977,432.2 985.5,423.7 989.7,411 991.9,394 998.2,381.2 1008,377 1008,504.1 722,504.1" fill="#FFF5BA"/>
<polygon points="722,451.4 743.2,448.2 775.1,445 807,441.8 838.9,435.4 870.7,432.2 902.6,430.1 923.9,432.2 945.1,438.6 966.4,445 981.2,455.6 989.7,466.2 998.2,476.9 1008,483.2 1008,504.1 785.7,504.1 764.5,496 743.2,487.5 722,481.1" fill="#F5E09E"/>
<polygon points="843.1,474.7 858,459.9 875,449.2 896.2,442.9 913.2,440.7 934.5,442.9 955.7,449.2 972.7,459.9 983.4,470.5 985.5,481.1 977,489.6 955.7,493.9 934.5,496 913.2,496 892,493.9 870.7,489.6 853.7,483.2" fill="#F5CD84"/>
<polygon points="892,474.7 902.6,470.5 913.2,465.2 926,466.2 938.7,469.4 951.5,471.5 955.7,474.7 947.2,476.9 934.5,479 923.9,480 909,479 898.4,477.9" fill="#E1A564"/>
<polygon points="722,275 955.7,275 953.6,285.6 947.2,298.4 945.1,317.5 943,334.5 934.5,343 926,351.5 913.2,360 902.6,366.4 892,372.7 870.7,377 849.5,381.2 828.2,385.5 807,389.7 785.7,392.9 764.5,394 743.2,396.1 722,397.2" fill="#99F0B2"/>
<polygon points="953.6,275 994,275 991.9,287.7 983.4,300.5 972.7,309 960,317.5 953.6,306.9" fill="#99F0B2"/>
<polygon points="722,296.2 732.6,285.6 736.9,275 794.2,275 792.1,287.7 787.9,300.5 785.7,313.2 787.9,328.1 794.2,343 802.7,357.9 811.2,370.6 817.6,379.1 807,385.5 785.7,389.7 764.5,390.8 743.2,389.7 722,388.7" fill="#53BD9F"/>
<polygon points="832.5,338.7 836.7,326 849.5,319.6 866.5,317.5 879.2,319.6 885.6,330.2 886.7,343 883.5,355.7 875,364.2 862.2,372.7 849.5,374.9 836.7,372.7 830.4,364.2 829.3,351.5" fill="#53BD9F"/>
<polygon points="887.7,275 953.6,275 951.5,287.7 945.1,298.4 936.6,306.9 928.1,313.2 917.5,311.1 906.9,302.6 896.2,294.1 889.9,285.6" fill="#53BD9F"/>
<polygon points="749.6,275 792.1,275 785.7,287.7 781.5,300.5 779.4,317.5 781.5,334.5 787.9,349.4 798.5,364.2 811.2,372.7 819.7,379.1 811.2,383.4 798.5,381.2 785.7,374.9 773,366.4 764.5,355.7 758.1,338.7 753.9,321.7 749.6,302.6 748.6,287.7" fill="#6EAAC8"/>
<polygon points="909,275 934.5,275 933.4,283.5 932.4,294.1 926,296.2 919.6,292 913.2,283.5" fill="#6EAAC8"/>
<polygon points="760.2,283.5 768.7,279.2 777.2,280.3 782.6,285.6 781.5,294.1 775.1,302.6 766.6,311.1 762.4,306.9 760.2,296.2" fill="#0570B0"/>
<polygon points="1052.6,275 1294,275 1294,436.5 1273.6,439.7 1252.4,438.6 1231.1,434.4 1216.2,432.2 1199.2,428 1184.4,421.6 1175.9,411 1173.7,394 1169.5,381.2 1161,368.5 1152.5,360 1144,347.2 1135.5,334.5 1127,326 1118.5,334.5 1110,347.2 1099.4,353.6 1088.7,353.6 1078.1,349.4 1067.5,343 1059,334.5 1055.8,321.7 1053.7,306.9 1051.6,292" fill="#CDFFCD"/>
<polygon points="1067.5,283.5 1078.1,279.2 1088.7,275 1105.7,275 1107.9,287.7 1105.7,306.9 1101.5,328.1 1093,338.7 1080.2,338.7 1069.6,330.2 1067.5,306.9" fill="#99F0B2"/>
<polygon points="1127,275 1294,275 1294,423.7 1284.2,421.6 1273.6,411 1263,404.6 1241.7,402.5 1220.5,400.4 1209.9,394 1199.2,381.2 1188.6,368.5 1173.7,355.7 1161,343 1152.5,330.2 1144,317.5 1137.6,304.7 1133.4,292" fill="#99F0B2"/>
<polygon points="1076,298.4 1081.3,283.5 1088.7,287.7 1089.8,306.9 1086.6,317.5 1080.2,315.4" fill="#53BD9F"/>
<polygon points="1190.7,306.9 1195,300.5 1212,299.4 1226.9,302.6 1226.9,317.5 1220.5,326 1205.6,328.1 1192.9,321.7" fill="#53BD9F"/>
<polygon points="1250.2,319.6 1263,309 1275.7,306.9 1294,309 1294,343 1284.2,340.9 1273.6,334.5 1258.7,328.1" fill="#53BD9F"/>
<polygon points="1273.6,394 1284.2,387.6 1294,385.5 1294,423.7 1284.2,419.5 1275.7,408.9" fill="#53BD9F"/>
<polygon points="1031.4,406.7 1042,394 1056.9,383.4 1067.5,381.2 1076,387.6 1078.1,402.5 1071.7,415.2 1061.1,423.7 1046.2,425.9 1033.5,421.6" fill="#CDFFCD"/>
<polygon points="1035.6,415.2 1046.2,400.4 1059,394 1067.5,394 1069.6,406.7 1063.2,417.4 1050.5,422.7 1037.7,421.6" fill="#99F0B2"/>
<polygon points="1008,440.7 1029.2,445 1050.5,447.1 1071.7,445 1084.5,436.5 1088.7,423.7 1093,411 1101.5,398.2 1114.2,391.9 1127,390.8 1139.7,396.1 1152.5,411 1161,423.7 1169.5,436.5 1175.9,453.5 1175.9,470.5 1169.5,479 1156.7,487.5 1135.5,493.9 1114.2,498.1 1093,500.2 1071.7,504.1 1008,504.1" fill="#FFF5BA"/>
<polygon points="1008,368.5 1025,364.2 1039.9,361.1 1050.5,361.1 1056.9,366.4 1046.2,372.7 1033.5,381.2 1020.7,394 1012.2,406.7 1008,413.1" fill="#FFF5BA"/>
<polygon points="1008,451.4 1029.2,455.6 1050.5,459.9 1071.7,457.7 1088.7,445 1103.6,432.2 1118.5,428 1135.5,428 1146.1,436.5 1152.5,449.2 1146.1,462 1135.5,470.5 1114.2,479 1093,483.2 1071.7,485.4 1050.5,483.2 1029.2,479 1008,476.9" fill="#F5E09E"/>
<polygon points="1263,457.7 1273.6,449.2 1284.2,447.1 1294,445 1294,504.1 1282.1,504.1 1273.6,487.5 1267.2,476.9" fill="#FFF5BA"/>
<polygon points="1280,462 1288.5,455.6 1294,455.6 1294,476.9 1286.4,474.7" fill="#F5E09E"/>
<polygon points="1195,445 1203.5,438.6 1220.5,436.5 1237.5,442.9 1252.4,455.6 1256.6,470.5 1246,479 1231.1,479 1216.2,472.6 1203.5,462" fill="#CDFFCD"/>
<polygon points="1203.5,451.4 1216.2,445 1231.1,447.1 1237.5,457.7 1233.2,466.2 1220.5,468.4 1209.9,462" fill="#99F0B2"/>
<polygon points="721.9,215.4 716.6,227.3 709.2,246.6 694.3,268.9 679.4,291.2 664.6,313.4 649.7,343.2 634.9,365.5 620,380.3 620,426.4 649.7,421.9 679.4,414.5 721.9,402.6" fill="#CDFFCD"/>
<polygon points="721.9,257 709.2,276.3 694.3,298.6 679.4,328.3 664.6,358 652.7,380.3 640.8,399.6 664.6,398.1 694.3,396.7 721.9,395.2" fill="#99F0B2"/>
<polygon points="721.9,310.5 719.6,335.7 715.1,358 718.1,365.5 721.9,366.9" fill="#53BD9F"/>
<polygon points="987.8,362.2 1011.2,359.3 1028.8,365.1 1034.7,376.8 1022.9,388.5 1015.6,406.1 1014.2,423.7 1020,444.2 1028.8,455.9 1052.2,458.8 1066.8,455.9 1078.6,441.2 1084.4,426.6 1093.2,406.1 1104.9,392.9 1122.5,390 1140,392.9 1154.7,403.2 1166.4,423.7 1173.7,447.1 1172.2,464.7 1160.5,479.3 1134.2,488.1 1104.9,493.9 1075.6,498.3 1046.4,503.9 987.8,503.9 986.4,476.4 987.8,447.1 984.9,417.8 986.4,388.5" fill="#FFF5BA"/>
<polygon points="1017.1,417.8 1022.9,400.3 1037.6,388.5 1052.2,376.8 1069.8,373.9 1081.5,382.7 1084.4,400.3 1078.6,417.8 1075.6,435.4 1066.8,450 1055.1,455.9 1037.6,455.9 1025.9,447.1 1017.1,435.4" fill="#FFFFFF"/>
<polygon points="1031.7,412 1040.5,397.3 1055.1,391.5 1066.8,388.5 1072.7,400.3 1069.8,417.8 1061,426.6 1046.4,426.6 1034.7,420.7" fill="#CDFFCD"/>
<polygon points="1040.5,414.9 1049.3,403.2 1063.9,397.3 1068.3,406.1 1063.9,417.8 1052.2,423.7" fill="#99F0B2"/>
<polygon points="996.6,461.7 1022.9,458.8 1046.4,461.7 1066.8,458.8 1081.5,441.2 1090.3,426.6 1110.8,426.6 1134.2,429.5 1154.7,441.2 1163.4,458.8 1151.7,473.4 1122.5,482.2 1090.3,488.1 1058.1,493.9 1025.9,498.3 996.6,498.3" fill="#F5E09E"/>
<polygon points="1195.6,447.1 1210.3,441.2 1227.8,444.2 1239.6,455.9 1236.6,467.6 1222,470.5 1204.4,467.6 1195.6,458.8" fill="#CDFFCD"/>
<polygon points="1204.4,452.9 1216.1,448.6 1227.8,452.9 1227.8,461.7 1216.1,464.7 1207.4,461.7" fill="#99F0B2"/>
<use href="#coast"/>
<use href="#purple"/>
<path d="M199.9,50.2L177.6,62.9M190.1,62.3L177.6,62.9M184.5,52.5L177.6,62.9M163.8,69.9L141.5,78.9M153.3,79.9L141.5,78.9M149.3,70L141.5,78.9M245.6,68.2L207.4,84.2M224.8,85.5L207.4,84.2M218.7,70.9L207.4,84.2M211.6,90.6L172.3,115M189.7,113.5L172.3,115M181.4,100L172.3,115M168.1,107.6L143.6,120.3M156.7,120.2L143.6,120.3M151.2,109.6L143.6,120.3M306.2,64L279.6,71.4M292.5,74L279.6,71.4M289.3,62.5L279.6,71.4M345.5,61.4L327.4,68.2M337.5,69.4L327.4,68.2M334.3,60.8L327.4,68.2M386.9,52.9L367.8,51.7M376.5,56.8L367.8,51.7M377.1,47.7L367.8,51.7M448.7,62.9L426.2,65.1M436.8,69.2L426.2,65.1M435.8,59L426.2,65.1M275.4,104.4L243.5,100.1M255.7,108.5L243.5,100.1M257.4,95.2L243.5,100.1M231.8,129.4L220.1,127.7M226.2,132L220.1,127.7M227.2,125.4L220.1,127.7M412.4,83.1L388,90.6M400.2,92.7L388,90.6M396.9,82L388,90.6M366.7,96.9L352.9,100.1M361,102.1L352.9,100.1M359.3,94.8L352.9,100.1M322.1,100.1L309.4,102.7M316.9,104.8L309.4,102.7M315.5,97.8L309.4,102.7M455.1,104.4L426.2,108.2M439.1,112.8L426.2,108.2M437.5,100.4L426.2,108.2M194.6,134.1L175.5,154.3M187.9,149.9L175.5,154.3M179.2,141.6L175.5,154.3M159.6,162.8L143.6,178.7M154.4,175.2L143.6,178.7M147.1,168L143.6,178.7M300.9,140.5L283.9,132M289.8,140.1L283.9,132M293.9,131.9L283.9,132M348.7,134.1L331.7,137.9M340.8,140.3L331.7,137.9M339,131.9L331.7,137.9M392.2,125.6L375.2,139.4M386.1,137.1L375.2,139.4M379.7,129.3L375.2,139.4M434.7,138.4L415.6,152.2M427.2,150.4L415.6,152.2M420.9,141.8L415.6,152.2M269,167.1L261.6,159.6M263.7,166.3L261.6,159.6M268.2,161.8L261.6,159.6M224.4,174.5L220.1,168.1M220.8,174L220.1,168.1M225.3,171L220.1,168.1M320,174.5L313.6,167.1M315.2,173.6L313.6,167.1M319.8,169.6L313.6,167.1M368.9,164.9L358.2,176.6M366.5,173.5L358.2,176.6M360.6,168L358.2,176.6M411.4,174.5L402.9,191.5M410.9,185.5L402.9,191.5M402.8,181.4L402.9,191.5M254.1,212.7L250.9,205.3M250.5,211.4L250.9,205.3M255.6,209.2L250.9,205.3M296.6,208.5L288.1,201M290.8,207.8L288.1,201M295.2,202.8L288.1,201M346.5,201.7L333.8,208.5M342.2,208.3L333.8,208.5M338.6,201.6L333.8,208.5M383.7,209.5L382.7,223.4M386.9,216.4L382.7,223.4M379.5,215.8L382.7,223.4M436,211.7L443.2,220.2M441.6,213.2L443.2,220.2M436.6,217.4L443.2,220.2M173.4,201L176.6,208.5M177,202.4L176.6,208.5M171.9,204.6L176.6,208.5M211.6,220.2L212.7,228.7M214.8,222.8L212.7,228.7M209.2,223.5L212.7,228.7M320,237.2L312.5,240.4M318.6,240.8L312.5,240.4M316.5,235.7L312.5,240.4M409.2,246.7L418.8,253.1M415.2,246.7L418.8,253.1M411.5,252.3L418.8,253.1M153.2,235L155.3,243.5M156.7,237.4L155.3,243.5M151.1,238.8L155.3,243.5M184,249.9L193.6,265.9M192.9,256L193.6,265.9M185.2,260.6L193.6,265.9M231.8,254.2L237.1,261.6M236.2,255.2L237.1,261.6M231.4,258.6L237.1,261.6M490.2,55.1L471.1,57.6M480.6,61L471.1,57.6M479.4,51.9L471.1,57.6M546.5,50.2L529.5,51.2M538.1,55L529.5,51.2M537.5,46.5L529.5,51.2M617.7,54.4L593.2,57.6M604.6,61.7L593.2,57.6M603.2,50.8L593.2,57.6M664.4,51.7L641,60.8M653.2,62L641,60.8M649.2,51.7L641,60.8M712.2,49.1L686.7,56.6M699.3,58.9L686.7,56.6M696,47.8L686.7,56.6M586.9,82.1L557.1,86.3M570.4,90.8L557.1,86.3M568.6,78.2L557.1,86.3M540.1,79.9L509.3,93.7M524.6,94.5L509.3,93.7M518.9,81.8L509.3,93.7M502.9,91.6L465.7,104.4M482.9,106.8L465.7,104.4M477.8,91.9L465.7,104.4M637.9,89.5L620.9,90.6M629.4,94.3L620.9,90.6M628.9,85.8L620.9,90.6M689.9,85.2L676.1,96.9M685.6,94.7L676.1,96.9M679.9,88L676.1,96.9M607,124.6L590,117.1M596.3,124.8L590,117.1M599.9,116.5L590,117.1M559.2,121.4L550.7,120.3M555.9,123.8L550.7,120.3M556.6,118.2L550.7,120.3M523.1,128.8L505.1,136.2M515.3,137.1L505.1,136.2M511.7,128.5L505.1,136.2M481.7,134.1L460.4,146.9M472.5,146L460.4,146.9M466.9,136.6L460.4,146.9M663.4,125.6L654.9,123.5M659.6,127.7L654.9,123.5M661,122.1L654.9,123.5M712.2,121.4L720.3,121.8M715,118.7L720.3,121.8M714.7,124.3L720.3,121.8M455.1,173.4L454.1,185.1M458,178.8L454.1,185.1M451.3,178.2L454.1,185.1M497.6,179.8L499.7,169.2M495.3,174.7L499.7,169.2M501.7,176L499.7,169.2M540.1,172.4L542.2,161.7M537.8,167.3L542.2,161.7M544.2,168.6L542.2,161.7M582.6,168.1L589,158.6M582.6,162.1L589,158.6M588.1,165.8L589,158.6M678.2,168.1L684.2,164.3M678.5,164.9L684.2,164.3M681.3,169.3L684.2,164.3M570.9,210.6L565.6,192.5M563.8,202.4L565.6,192.5M572.5,199.8L565.6,192.5M610.2,202.1L612.4,192.5M608.1,197.7L612.4,192.5M614,199.1L612.4,192.5M655.9,201L657,193.6M653.6,198.4L657,193.6M658.9,199.2L657,193.6M700.5,211.7L704.8,191.5M698.1,199.8L704.8,191.5M707.6,201.7L704.8,191.5M472.1,217L489.1,207.4M478.9,207.8L489.1,207.4M483.5,215.9L489.1,207.4M515.7,213.8L532.7,205.3M522.6,205.2L532.7,205.3M526.7,213.4L532.7,205.3M594.3,251L586.9,221.2M583.7,235.1L586.9,221.2M596.2,232L586.9,221.2M635.7,246.7L634.7,224.4M630,234.7L634.7,224.4M640.2,234.2L634.7,224.4M672.9,246.7L685.7,224.4M675.3,231.2L685.7,224.4M685.1,236.9L685.7,224.4M453,254.2L468.9,246.7M459.4,246.4L468.9,246.7M463.1,254.2L468.9,246.7M497.6,252L511.4,241.4M502.1,243.2L511.4,241.4M507.4,250L511.4,241.4M538,242.5L558.2,243.5M549.1,238.3L558.2,243.5M548.6,247.8L558.2,243.5M612.4,291.4L610.2,256.3M603.9,270.8L610.2,256.3M618.3,270L610.2,256.3M657,289.2L658,258.4M651.1,270.9L658,258.4M664.1,271.4L658,258.4M684.6,288.8L714.4,260.5M697.6,265.5L714.4,260.5M708.5,277L714.4,260.5M782.6,57.6L758.1,62.9M769.9,66L758.1,62.9M767.6,55.2L758.1,62.9M852.7,52.3L842.1,60.8M850,59.2L842.1,60.8M845.4,53.4L842.1,60.8M892,62.9L892,56.6M889.5,61.5L892,56.6M894.5,61.5L892,56.6M957.9,49.5L948.3,51.7M954.8,53.4L948.3,51.7M953.5,47.4L948.3,51.7M1004.6,62.9L994,57.6M998.4,63.6L994,57.6M1001.5,57.6L994,57.6M737.9,81L728.4,86.3M735.5,86.1L728.4,86.3M732.4,80.4L728.4,86.3M819.7,83.1L809.1,82.1M815,85.9L809.1,82.1M815.7,79.5L809.1,82.1M931.3,85.2L923.9,84.2M928.7,87.6L923.9,84.2M929.4,82.3L923.9,84.2M979.1,96.9L970.6,91.6M974.1,97.5L970.6,91.6M977.4,92.2L970.6,91.6M1006.7,127.7L997.2,119.2M1000,126.5L997.2,119.2M1004.7,121.2L997.2,119.2M825.1,136.2L824,129.9M822.3,135.1L824,129.9M827.3,134.3L824,129.9M750.7,206.4L742.2,195.7M743.8,203.7L742.2,195.7M749.6,199.1L742.2,195.7M794.2,202.1L784.7,192.5M787.2,200.2L784.7,192.5M792.4,195L784.7,192.5M810.2,243.5L811.2,227.6M806.7,235.3L811.2,227.6M814.8,235.8L811.2,227.6M849.5,236.1L859.1,234M852.5,232.3L859.1,234M853.9,238.3L859.1,234M904.7,241.4L917.5,244.6M911.5,239.4L917.5,244.6M909.8,246.4L917.5,244.6M988.7,214.9L992.9,209.5M987.8,211.9L992.9,209.5M991.8,215.1L992.9,209.5M723.1,238.2L727.3,234M722.2,235.6L727.3,234M725.7,239.1L727.3,234M762.4,241.4L771.3,237.2M764.5,237L771.3,237.2M767.2,242.5L771.3,237.2M965.3,264.8L990.8,263.7M979.5,258.6L990.8,263.7M980,269.8L990.8,263.7M1059,60.8L1046.2,51.2M1050.2,59.3L1046.2,51.2M1055.1,52.8L1046.2,51.2M1135.5,75.7L1133.4,68.2M1132.2,74.1L1133.4,68.2M1137.4,72.6L1133.4,68.2M1189.7,72.5L1178,71.4M1184.3,75.4L1178,71.4M1184.9,68.7L1178,71.4M1246,66.1L1239.6,60.8M1242,66.5L1239.6,60.8M1245.6,62.2L1239.6,60.8M1303.3,66.1L1284.2,62.9M1292.4,69L1284.2,62.9M1293.9,59.9L1284.2,62.9M1037.7,93.7L1019.7,86.3M1026.3,94.1L1019.7,86.3M1029.9,85.5L1019.7,86.3M1094.1,83.1L1083.4,75.7M1087.1,82.6L1083.4,75.7M1091.2,76.8L1083.4,75.7M1069.6,120.3L1061.1,107.6M1062.1,116.2L1061.1,107.6M1068.7,111.8L1061.1,107.6M1013.3,132L1008,119.2M1007.4,127.4L1008,119.2M1014.2,124.5L1008,119.2M1120.6,117.1L1112.1,110.7M1115.2,117.1L1112.1,110.7M1119,111.9L1112.1,110.7M1166.3,103.3L1154.6,107.6M1162.2,108.5L1154.6,107.6M1159.8,101.9L1154.6,107.6M1224.7,98L1209.9,98M1217.5,101.9L1209.9,98M1217.5,94.1L1209.9,98M1277.9,98L1258.7,99.1M1268,103.1L1258.7,99.1M1267.5,94L1258.7,99.1M1046.2,155.4L1037.7,140.5M1038.2,149.8L1037.7,140.5M1045.6,145.6L1037.7,140.5M1107.9,144.7L1088.7,146.9M1098.2,150.4L1088.7,146.9M1097.2,141.3L1088.7,146.9M1144,149L1135.1,146.9M1140,151.1L1135.1,146.9M1141.4,145.3L1135.1,146.9M1199.2,132L1188.6,132M1194.9,135.2L1188.6,132M1194.9,128.8L1188.6,132M1250.2,132L1237.5,136.2M1245.4,137.4L1237.5,136.2M1243.1,130.5L1237.5,136.2M1301.2,136.2L1281,138.4M1290.8,142.1L1281,138.4M1289.8,132.6L1281,138.4M1025,191.5L1026.1,180.9M1022.3,186.8L1026.1,180.9M1028.6,187.4L1026.1,180.9M1071.7,186.2L1068.6,177.7M1067.8,184.1L1068.6,177.7M1073.3,182L1068.6,177.7M1118.5,185.1L1115.3,176.6M1114.6,183L1115.3,176.6M1120.1,181L1115.3,176.6M1222.6,162.8L1217.3,173.4M1223.3,169L1217.3,173.4M1217.2,166L1217.3,173.4M1267.2,168.1L1263,174.5M1268.2,171.6L1263,174.5M1263.7,168.6L1263,174.5M1195,205.3L1198.2,213.8M1198.9,207.4L1198.2,213.8M1193.4,209.4L1198.2,213.8M1239.6,203.2L1242.8,209.5M1242.8,203.8L1242.8,209.5M1238.2,206.1L1242.8,209.5M1290.6,206.4L1297,214.9M1295.8,207.9L1297,214.9M1290.7,211.8L1297,214.9M1039.9,226.5L1059,214.9M1047.8,215.7L1059,214.9M1053.1,224.5L1059,214.9M1084.5,218L1101.5,213.8M1092.2,211.7L1101.5,213.8M1094.3,220L1101.5,213.8M1130.8,221.2L1142.9,223.8M1137,219L1142.9,223.8M1135.5,225.8L1142.9,223.8M1008,252L1026.1,239.3M1015,240.9L1026.1,239.3M1020.9,249.2L1026.1,239.3M1054.7,261.6L1084.5,254.2M1070.6,251L1084.5,254.2M1073.8,263.5L1084.5,254.2M1099.4,257.4L1127,253.1M1114.4,249L1127,253.1M1116.2,260.9L1127,253.1M1164.2,239.3L1183.3,247.8M1176.5,239.5L1183.3,247.8M1172.6,248.4L1183.3,247.8M1214.1,239.3L1233.2,247.8M1226.5,239.5L1233.2,247.8M1222.5,248.4L1233.2,247.8M1257.7,240.4L1277.9,246.7M1270.1,239.1L1277.9,246.7M1267.2,248.5L1277.9,246.7M194.6,282.4L231.8,298.8M220.7,285.2L231.8,298.8M214.3,299.8L231.8,298.8M233.9,296.2L271.1,293.1M255.7,286.8L271.1,293.1M257,301.9L271.1,293.1M327.4,296.2L372,294.1M356.1,286.9L372,294.1M356.8,302.8L372,294.1M373.1,288.8L407.1,279.2M391.5,276.1L407.1,279.2M395.4,290L407.1,279.2M418.8,290.9L456.2,278.2M438.9,275.7L456.2,278.2M444,290.7L456.2,278.2M159.6,316.4L190.4,314.3M177.2,308.7L190.4,314.3M178.1,321.7L190.4,314.3M288.1,316.4L331.7,309M315,303.8L331.7,309M317.6,319.5L331.7,309M204.2,324.9L254.1,337.7M241,326.1L254.1,337.7M237,341.5L254.1,337.7M345.5,334.5L398.6,325.6M381.9,320.3L398.6,325.6M384.5,336L398.6,325.6M385.9,337.7L436,314.9M418.5,314.1L436,314.9M425.1,328.6L436,314.9M141.5,349.4L167,350.4M156.2,344.4L167,350.4M155.7,355.6L167,350.4M176.6,350.4L206.3,358.9M195.8,349.2L206.3,358.9M192.2,361.7L206.3,358.9M273.2,352.6L311.5,344.1M294.7,339.7L311.5,344.1M298.1,355.1L311.5,344.1M316.8,355.7L356.1,344.1M338.9,340.9L356.1,344.1M343.4,356.1L356.1,344.1M413.5,358.9L447.5,356.8M433.3,350.7L447.5,356.8M434.2,364.7L447.5,356.8M236.1,358.9L269,369.6M257.9,358.5L269,369.6M253.5,372L269,369.6M374.2,368.5L406,369.6M393.2,362.5L406,369.6M392.7,375.8L406,369.6M158.5,379.1L178.7,397.2M174,385.1L178.7,397.2M166.2,393.9L178.7,397.2M205.2,381.2L232.9,401.4M225.9,387.6L232.9,401.4M217.5,399L232.9,401.4M296.6,385.5L322.1,390.8M312.3,382.9L322.1,390.8M310,394.1L322.1,390.8M342.3,389.7L364.6,384.4M353.5,381.7L364.6,384.4M355.9,391.9L364.6,384.4M403.9,404.6L429.4,399.3M417.3,396L429.4,399.3M419.6,407.2L429.4,399.3M178.7,413.1L212.7,438.6M205,422.9L212.7,438.6M195.4,435.6L212.7,438.6M216.9,417.4L255.2,440.7M246,425.8L255.2,440.7M237.7,439.4L255.2,440.7M276.4,419.5L309.4,432.2M298.7,420.4L309.4,432.2M293.5,433.9L309.4,432.2M324.2,421.6L347.6,430.1M339.3,421.2L347.6,430.1M335.5,431.6L347.6,430.1M367.8,424.8L392.2,426.9M382,420.6L392.2,426.9M381.1,431.4L392.2,426.9M426.2,441.8L443.2,440.7M434.7,437L443.2,440.7M435.2,445.5L443.2,440.7M152.1,424.8L165.9,439.7M163.1,429.6L165.9,439.7M156.1,436.1L165.9,439.7M153.2,452.4L182.9,475.8M175.9,460.5L182.9,475.8M166.4,472.5L182.9,475.8M196.7,453.5L226.5,474.7M218.9,460.2L226.5,474.7M210.3,472.3L226.5,474.7M247.7,458.8L277.5,476.9M269.2,463.5L277.5,476.9M261.8,475.7L277.5,476.9M294.5,455.6L324.2,473.7M316,460.3L324.2,473.7M308.5,472.5L324.2,473.7M339.1,456.7L366.7,471.5M358.5,459.6L366.7,471.5M352.2,471.2L366.7,471.5M390.1,463L405,465.2M397.9,460.2L405,465.2M396.8,468L405,465.2M191.4,497L197.8,510.9M198.1,502.2L197.8,510.9M191,505.5L197.8,510.9M236.1,497L239.2,510.9M241.3,502.8L239.2,510.9M233.9,504.5L239.2,510.9M291.3,497L292.8,510.9M295.7,503.2L292.8,510.9M288.3,504L292.8,510.9M333.8,497L337,510.9M339,502.8L337,510.9M331.6,504.5L337,510.9M377.4,497L381.6,510.9M383,502.6L381.6,510.9M375.8,504.8L381.6,510.9M420.9,497L426.2,510.9M427.1,502.4L426.2,510.9M419.9,505.2L426.2,510.9M506.1,298.4L538,276.1M521,278.5L538,276.1M529.9,291.3L538,276.1M551.8,284.6L577.3,278.2M565,275.3L577.3,278.2M567.7,286.5L577.3,278.2M582.6,324.9L607,297.3M591.7,303.4L607,297.3M602.9,313.3L607,297.3M624,332.4L653.8,290.9M638.2,299L653.8,290.9M651.2,308.2L653.8,290.9M674,334.5Q688.9,306.9 698.4,293.1M683,301.4L698.4,293.1M696.1,310.4L698.4,293.1M431.8,326L475.3,311.5M458,308.9L475.3,311.5M463,324L475.3,311.5M489.1,337.7L517.8,306.9M501.4,312.9L517.8,306.9M513,323.7L517.8,306.9M536.9,326L559.2,314.3M547,314.4L559.2,314.3M552.1,324.3L559.2,314.3M572,358.9L586.9,341.9M576.3,346.1L586.9,341.9M584.1,352.9L586.9,341.9M463.6,362.1L496.6,349.4M480.7,347.7L496.6,349.4M485.9,361.2L496.6,349.4M516.7,364.2L526.3,356.8M518.9,358.2L526.3,356.8M523.1,363.7L526.3,356.8M445.6,397.2L470,386.6M457.2,385.8L470,386.6M461.9,396.4L470,386.6M490.2,398.2L505.1,390.8M495.9,390.7L505.1,390.8M499.6,398.2L505.1,390.8M563.1,391.4L562.4,384.4M560.3,389.8L562.4,384.4M565.5,389.3L562.4,384.4M610.2,396.1L601.7,379.1M601.7,389.2L601.7,379.1M609.8,385.1L601.7,379.1M620.9,366.4L628.3,334.5M618.6,345.9L628.3,334.5M631.9,349L628.3,334.5M677.2,362.1Q663.4,351.5 664.4,332.4M657,345.2L664.4,332.4M670.4,346L664.4,332.4M722,353.6L694.2,339.8M702.7,351.4L694.2,339.8M708.6,339.7L694.2,339.8M664.4,391.9L635.7,379.1M644.9,390.4L635.7,379.1M650.2,378.3L635.7,379.1M722,389.7L670.8,384.4M685.5,393.9L670.8,384.4M687.1,378.1L670.8,384.4M635.7,424.8L615.5,426.9M625.4,430.7L615.5,426.9M624.4,421.2L615.5,426.9M683.5,422.7L654.9,430.1M668.4,433.1L654.9,430.1M665.2,420.9L654.9,430.1M729.2,424.8L696.3,429M710.6,434.1L696.3,429M708.8,420.5L696.3,429M479.6,427.6L470,430.1M476.6,431.5L470,430.1M475,425.6L470,430.1M433.9,442.9L441.3,439M435.1,439.1L441.3,439M437.7,444.1L441.3,439M507.2,462L516.7,467.3M512.8,461.4L516.7,467.3M509.6,467L516.7,467.3M457.2,471.5L460.4,479M460.8,472.9L460.4,479M455.7,475.1L460.4,479M555,460.9L555,468.8M557.7,463.4L555,468.8M552.3,463.4L555,468.8M599.6,457.7L598.5,470.5M602.7,463.8L598.5,470.5M595.6,463.3L598.5,470.5M646.4,457.7L640,470.5M646.7,465.5L640,470.5M639.9,462.2L640,470.5M689.9,458.8L682.5,470.5M689.5,466.3L682.5,470.5M683.3,462.3L682.5,470.5M536.9,497L540.1,510.9M542.1,502.8L540.1,510.9M534.8,504.5L540.1,510.9M582.6,497L581.5,510.9M585.8,503.9L581.5,510.9M578.4,503.3L581.5,510.9M625.1,497L625.7,510.9M629.1,503.4L625.7,510.9M621.7,503.7L625.7,510.9M666.5,496L669.7,510.9M672,502.5L669.7,510.9M664.3,504.1L669.7,510.9M708,497L712.2,510.9M713.7,502.6L712.2,510.9M706.4,504.8L712.2,510.9M732.6,278.2L766.6,278.2M752.9,271.2L766.6,278.2M752.9,285.2L766.6,278.2M934.5,277.1L948.3,282.4M942.6,276.1L948.3,282.4M939.8,283.3L948.3,282.4M717.8,320.7L732.6,305.8M722.4,309.1L732.6,305.8M729.3,316.1L732.6,305.8M819.7,315.4L820.8,305.8M817.1,311.4L820.8,305.8M823.2,312L820.8,305.8M864.4,315.4L864.4,306.9M861.5,312.4L864.4,306.9M867.2,312.4L864.4,306.9M909,302.6L910,313.2M912.6,306.7L910,313.2M906.2,307.3L910,313.2M951.5,311.1L965.3,319.6M960.6,311.9L965.3,319.6M956.3,318.9L965.3,319.6M983.4,307.9L1008,301.6M995.9,298.9L1008,301.6M998.7,309.8L1008,301.6M773,350.4L733.7,347.2M748.5,356.4L733.7,347.2M749.8,340.6L733.7,347.2M813.4,353.6L780.4,346.2M792.2,356L780.4,346.2M795.3,342.4L780.4,346.2M853.7,356.8L828.2,343M836,354.2L828.2,343M841.9,343.3L828.2,343M899.4,349.4L870.7,348.3M882.6,354.9L870.7,348.3M883,342.6L870.7,348.3M937.7,339.8L917.5,351.5M929.1,350.9L917.5,351.5M923.8,341.8L917.5,351.5M989.7,350.4L979.1,347.2M984.3,352.2L979.1,347.2M986.2,346L979.1,347.2M973.8,382.3L889.9,386.6M905.8,393.7L889.9,386.6M905,377.8L889.9,386.6M902.6,394L838.9,385.5M853.3,395.4L838.9,385.5M855.4,379.7L838.9,385.5M853.7,397.2L798.9,380.6M811.5,392.7L798.9,380.6M816.1,377.5L798.9,380.6M802.7,392.9L757.1,383.8M770.8,394.6L757.1,383.8M773.9,379.1L757.1,383.8M773,389.7L723.1,387.6M738.3,396.2L723.1,387.6M739,380.3L723.1,387.6M949.4,424.8L914.3,421.6M927.7,430.1L914.3,421.6M929,415.7L914.3,421.6M906.9,424.8L868.6,426.9M884.2,433.8L868.6,426.9M883.3,418.4L868.6,426.9M866.5,425.9L821.9,426.9M837.6,434.5L821.9,426.9M837.3,418.6L821.9,426.9M819.7,426.3L780.4,424.8M795.6,433.3L780.4,424.8M796.2,417.5L780.4,424.8M774.1,426.3L739,425.9M753,433.2L739,425.9M753.2,418.9L739,425.9M730.5,423.7L709.3,424.8M719.2,429.2L709.3,424.8M718.7,419.4L709.3,424.8M986.5,423.7L964.2,413.1M971.6,422.7L964.2,413.1M976.3,412.8L964.2,413.1M1008,386.6L996.1,385.5M1002.5,389.5L996.1,385.5M1003.1,382.7L996.1,385.5M734.7,459.9L725.2,469.4M732.9,466.9L725.2,469.4M727.7,461.7L725.2,469.4M779.4,459.9L768.7,469.4M776.8,467.3L768.7,469.4M771.7,461.6L768.7,469.4M824,459.9L811.2,469.4M820,467.9L811.2,469.4M815.2,461.4L811.2,469.4M868.6,460.9L855.9,468.4M864.4,467.9L855.9,468.4M860.5,461.2L855.9,468.4M909,464.1L899.4,462.4M904.8,466.4L899.4,462.4M905.8,460.5L899.4,462.4M996.1,455.6L990.2,460.9M996,459.4L990.2,460.9M992.4,455.3L990.2,460.9M752.8,494.9L757.1,510.9M759,501.9L757.1,510.9M751,504.1L757.1,510.9M796.4,494.9L800.6,510.9M802.5,501.9L800.6,510.9M794.5,504.1L800.6,510.9M839.9,494.9L844.2,510.9M846.1,501.9L844.2,510.9M838.1,504.1L844.2,510.9M882.4,494.9L887.3,510.9M888.9,501.8L887.3,510.9M880.9,504.2L887.3,510.9M927,496L931.3,510.9M933,502.2L931.3,510.9M925.3,504.4L931.3,510.9M971.7,496L975.9,510.9M977.6,502.2L975.9,510.9M969.9,504.4L975.9,510.9M1020.7,288.8L1049.4,280.3M1035.7,277.8L1049.4,280.3M1039.3,289.9L1049.4,280.3M1137.6,276.1L1161,280.3M1151.6,273.2L1161,280.3M1149.7,283.7L1161,280.3M1189.7,276.1L1213,281.4M1204,273.8L1213,281.4M1201.6,284.3L1213,281.4M1231.1,277.1L1257.7,283.5M1247.8,275L1257.7,283.5M1245,286.5L1257.7,283.5M1273.6,279.2L1290.6,281.4M1282.8,276.1L1290.6,281.4M1281.8,284.6L1290.6,281.4M1083.4,294.1L1107.9,290.9M1096.5,286.9L1107.9,290.9M1097.9,297.8L1107.9,290.9M1005.9,301.6L1014.4,298.4M1007.9,297.6L1014.4,298.4M1010,303.1L1014.4,298.4M1056.9,319.6L1069.6,318.6M1062.4,315.6L1069.6,318.6M1063,322.7L1069.6,318.6M1123.8,314.3L1142.9,317.5M1134.7,311.4L1142.9,317.5M1133.2,320.6L1142.9,317.5M1165.2,307.9L1188.6,316.4M1180.3,307.5L1188.6,316.4M1176.5,317.9L1188.6,316.4M1206.7,312.2L1234.3,317.5M1223.8,309.3L1234.3,317.5M1221.5,321.2L1234.3,317.5M1254.5,318.6L1287.4,320.7M1274.4,313L1287.4,320.7M1273.6,326.7L1287.4,320.7M1021.8,340.9L1030.3,335.6M1023.5,336.2L1030.3,335.6M1026.8,341.4L1030.3,335.6M1148.2,350.4L1158.9,356.8M1154.8,350.3L1158.9,356.8M1151.2,356.3L1158.9,356.8M1188.6,347.2L1205.6,351.5M1198.4,345.3L1205.6,351.5M1196.3,353.6L1205.6,351.5M1235.4,353.6L1259.8,353.6M1249.1,348.2L1259.8,353.6M1249.1,359.1L1259.8,353.6M1282.1,356.8L1297,356.8M1289.4,352.9L1297,356.8M1289.4,360.7L1297,356.8M1053.7,377L1036.7,373.8M1044.2,379.6L1036.7,373.8M1045.7,371.1L1036.7,373.8M1015.4,389.7L1005.9,389.7M1011.8,392.8L1005.9,389.7M1011.8,386.7L1005.9,389.7M1097.2,385.1L1089.8,384.4M1094.8,387.5L1089.8,384.4M1095.3,382.2L1089.8,384.4M1134.4,388.7L1138.7,394M1137.5,388.5L1138.7,394M1133.5,391.7L1138.7,394M1173.7,386.6L1187.5,388.7M1180.9,383.9L1187.5,388.7M1179.7,391.3L1187.5,388.7M1214.1,387.6L1233.2,387.6M1224.2,383L1233.2,387.6M1224.2,392.2L1233.2,387.6M1254.5,394L1280,390.8M1268.3,386.6L1280,390.8M1269.7,397.8L1280,390.8M1066.4,415.2L1059,414.2M1063.8,417.6L1059,414.2M1064.6,412.3L1059,414.2M1028.2,425.9L1015.4,426.9M1022.7,429.9L1015.4,426.9M1022.1,422.8L1015.4,426.9M1112.1,425.9L1101.5,425.9M1107.8,429.1L1101.5,425.9M1107.8,422.7L1101.5,425.9M1148.2,425.9L1165.2,431.2M1158.4,424.5L1165.2,431.2M1155.8,432.8L1165.2,431.2M1190.7,425.9L1209.9,425.9M1200.9,421.3L1209.9,425.9M1200.9,430.4L1209.9,425.9M1231.1,425.9L1256.6,425.9M1245.6,420.2L1256.6,425.9M1245.6,431.5L1256.6,425.9M1277.9,432.2L1291.7,430.1M1283.8,427.5L1291.7,430.1M1285,434.9L1291.7,430.1M1090.9,460.9L1091.9,468.4M1093.8,462.8L1091.9,468.4M1088.5,463.5L1091.9,468.4M1125.9,460.9L1139.7,466.2M1134,459.9L1139.7,466.2M1131.3,467.1L1139.7,466.2M1165.2,462L1182.2,472.6M1176.9,463.7L1182.2,472.6M1171.9,471.7L1182.2,472.6M1218.4,459.9L1224.7,467.3M1223.1,460.8L1224.7,467.3M1218.5,464.7L1224.7,467.3M1260.9,460.9L1269.4,465.2M1265.4,459.8L1269.4,465.2M1262.7,465.2L1269.4,465.2M1016.5,497L1019.7,510.9M1021.7,502.8L1019.7,510.9M1014.4,504.5L1019.7,510.9M1064.3,497L1068.6,510.9M1070,502.6L1068.6,510.9M1062.7,504.8L1068.6,510.9M1106.8,497L1111.1,510.9M1112.5,502.6L1111.1,510.9M1105.2,504.8L1111.1,510.9M1148.2,498.1L1152.5,510.9M1153.7,502.9L1152.5,510.9M1146.8,505.2L1152.5,510.9M1244.9,497L1249.2,510.9M1250.6,502.6L1249.2,510.9M1243.3,504.8L1249.2,510.9" fill="none" stroke="#808080" stroke-width="3.3" stroke-linecap="round" stroke-linejoin="round"/>
</g></g>
<line x1="129.5" y1="85.3" x2="150" y2="85.3" stroke="#000" stroke-width="3.4" stroke-linecap="round"/>
<text x="107.5" y="97.5" font-size="34.5" text-anchor="end" fill="#000" >45°N</text>
<line x1="129.5" y1="199.5" x2="150" y2="199.5" stroke="#000" stroke-width="3.4" stroke-linecap="round"/>
<text x="107.5" y="211.7" font-size="34.5" text-anchor="end" fill="#000" >30°N</text>
<line x1="129.5" y1="313.6" x2="150" y2="313.6" stroke="#000" stroke-width="3.4" stroke-linecap="round"/>
<text x="107.5" y="325.8" font-size="34.5" text-anchor="end" fill="#000" >15°N</text>
<line x1="129.5" y1="427.7" x2="150" y2="427.7" stroke="#000" stroke-width="3.4" stroke-linecap="round"/>
<text x="107.5" y="439.9" font-size="34.5" text-anchor="end" fill="#000" >0°</text>
<line x1="284.4" y1="503.8" x2="284.4" y2="523.5" stroke="#000" stroke-width="3.4" stroke-linecap="round"/>
<text x="284.4" y="573.5" font-size="34.5" text-anchor="middle" fill="#000" >0°</text>
<line x1="486.1" y1="503.8" x2="486.1" y2="523.5" stroke="#000" stroke-width="3.4" stroke-linecap="round"/>
<text x="486.1" y="573.5" font-size="34.5" text-anchor="middle" fill="#000" >30°E</text>
<line x1="687.7" y1="503.8" x2="687.7" y2="523.5" stroke="#000" stroke-width="3.4" stroke-linecap="round"/>
<text x="687.7" y="573.5" font-size="34.5" text-anchor="middle" fill="#000" >60°E</text>
<line x1="889.3" y1="503.8" x2="889.3" y2="523.5" stroke="#000" stroke-width="3.4" stroke-linecap="round"/>
<text x="889.3" y="573.5" font-size="34.5" text-anchor="middle" fill="#000" >90°E</text>
<line x1="1091" y1="503.8" x2="1091" y2="523.5" stroke="#000" stroke-width="3.4" stroke-linecap="round"/>
<text x="1091" y="573.5" font-size="34.5" text-anchor="middle" fill="#000" >120°E</text>
<line x1="1292.6" y1="503.8" x2="1292.6" y2="523.5" stroke="#000" stroke-width="3.4" stroke-linecap="round"/>
<text x="1292.6" y="573.5" font-size="34.5" text-anchor="middle" fill="#000" >150°E</text>
<rect x="150.0" y="47.3" width="1142.6" height="456.5" fill="none" stroke="#000" stroke-width="3.4" stroke-linejoin="round"/>
<text x="146.2" y="36.4" font-size="48.5" text-anchor="start" fill="#000" >(a) Constrained MME</text>
<text x="1294.6" y="44.3" font-size="37.3" text-anchor="end" fill="#000" >2050-2099</text>
<rect x="201.3" y="582.3" width="71.7" height="31.5" fill="#B66A28"/>
<rect x="272.5" y="582.3" width="71.7" height="31.5" fill="#CD8540"/>
<rect x="343.7" y="582.3" width="71.7" height="31.5" fill="#E1A564"/>
<rect x="414.8" y="582.3" width="71.7" height="31.5" fill="#F5CD84"/>
<rect x="486" y="582.3" width="71.7" height="31.5" fill="#F5E09E"/>
<rect x="557.2" y="582.3" width="71.7" height="31.5" fill="#FFF5BA"/>
<rect x="628.4" y="582.3" width="71.7" height="31.5" fill="#FFFFFF"/>
<rect x="699.5" y="582.3" width="71.7" height="31.5" fill="#CDFFCD"/>
<rect x="770.7" y="582.3" width="71.7" height="31.5" fill="#99F0B2"/>
<rect x="841.9" y="582.3" width="71.7" height="31.5" fill="#53BD9F"/>
<rect x="913.1" y="582.3" width="71.7" height="31.5" fill="#6EAAC8"/>
<rect x="984.2" y="582.3" width="71.7" height="31.5" fill="#0570B0"/>
<rect x="1055.4" y="582.3" width="71.7" height="31.5" fill="#023858"/>
<line x1="272.5" y1="582.3" x2="272.5" y2="613.8" stroke="#000" stroke-width="2"/>
<line x1="343.7" y1="582.3" x2="343.7" y2="613.8" stroke="#000" stroke-width="2"/>
<line x1="414.8" y1="582.3" x2="414.8" y2="613.8" stroke="#000" stroke-width="2"/>
<line x1="486" y1="582.3" x2="486" y2="613.8" stroke="#000" stroke-width="2"/>
<line x1="557.2" y1="582.3" x2="557.2" y2="613.8" stroke="#000" stroke-width="2"/>
<line x1="628.4" y1="582.3" x2="628.4" y2="613.8" stroke="#000" stroke-width="2"/>
<line x1="699.5" y1="582.3" x2="699.5" y2="613.8" stroke="#000" stroke-width="2"/>
<line x1="770.7" y1="582.3" x2="770.7" y2="613.8" stroke="#000" stroke-width="2"/>
<line x1="841.9" y1="582.3" x2="841.9" y2="613.8" stroke="#000" stroke-width="2"/>
<line x1="913.1" y1="582.3" x2="913.1" y2="613.8" stroke="#000" stroke-width="2"/>
<line x1="984.2" y1="582.3" x2="984.2" y2="613.8" stroke="#000" stroke-width="2"/>
<line x1="1055.4" y1="582.3" x2="1055.4" y2="613.8" stroke="#000" stroke-width="2"/>
<rect x="201.3" y="582.3" width="925.3" height="31.5" fill="none" stroke="#000" stroke-width="2.2"/>
<text x="272.5" y="647" font-size="34.5" text-anchor="middle" fill="#000" >-2.5</text>
<text x="343.7" y="647" font-size="34.5" text-anchor="middle" fill="#000" >-2</text>
<text x="414.8" y="647" font-size="34.5" text-anchor="middle" fill="#000" >-1.5</text>
<text x="486" y="647" font-size="34.5" text-anchor="middle" fill="#000" >-1</text>
<text x="557.2" y="647" font-size="34.5" text-anchor="middle" fill="#000" >-0.5</text>
<text x="628.4" y="647" font-size="34.5" text-anchor="middle" fill="#000" >-0.2</text>
<text x="699.5" y="647" font-size="34.5" text-anchor="middle" fill="#000" >0.2</text>
<text x="770.7" y="647" font-size="34.5" text-anchor="middle" fill="#000" >0.5</text>
<text x="841.9" y="647" font-size="34.5" text-anchor="middle" fill="#000" >1</text>
<text x="913.1" y="647" font-size="34.5" text-anchor="middle" fill="#000" >1.5</text>
<text x="984.2" y="647" font-size="34.5" text-anchor="middle" fill="#000" >2</text>
<text x="1055.4" y="647" font-size="34.5" text-anchor="middle" fill="#000" >2.5</text>
<text x="1311" y="601.2" font-size="27.5" text-anchor="middle" fill="#000" >2</text>
<line x1="1277.5" y1="619.4" x2="1342" y2="619.4" stroke="#000" stroke-width="3.6" stroke-linecap="round"/>
<polyline points="1328,612.4 1343.5,619.4 1328,626.4" fill="none" stroke="#000" stroke-width="4.6" stroke-linecap="round" stroke-linejoin="round"/>
<clipPath id="clip686"><rect x="150.0" y="733.3" width="1142.6" height="456.5"/></clipPath>
<g clip-path="url(#clip686)">
<g transform="translate(0,686)">
<polygon points="305.1,112.9 315.7,98 330.6,91.6 345.5,87.4 358.2,78.9 362.5,74.6 373.1,78.9 383.7,87.4 394.4,91.6 405,93.7 415.6,96.9 426.2,100.1 436,102.2 436,153.2 426.2,151.1 405,153.2 383.7,157.5 362.5,162.8 351.9,172.4 343.4,174.5 332.7,170.2 320,163.9 314.7,155.4 317.9,144.7 326.4,138.4 328.5,132 320,125.6 307.2,121.4" fill="#FFF5BA"/>
<polygon points="184,161.7 188.2,142.6 192.5,132 198.9,142.6 211.6,146.9 215.9,157.5 213.7,174.5 207.4,185.1 203.1,195.7 201,206.4 196.7,212.7 186.1,214.9 181.9,204.2 181.9,185.1" fill="#FFF5BA"/>
<polygon points="150,223.4 171.2,221.2 192.5,214.9 205.2,210.6 213.7,200 220.1,189.4 230.7,178.7 245.6,172.4 260.5,168.1 277.5,166 296.6,168.1 307.2,174.5 307.2,185.1 311.5,195.7 324.2,204.2 337,208.5 347.6,214.9 354,227.6 362.5,234 383.7,238.2 405,242.5 426.2,244.6 436,245.7 436,275 150,275" fill="#FFF5BA"/>
<polygon points="150,248.9 162.7,244.6 181.9,238.2 198.9,234 213.7,221.2 218,204.2 224.4,193.6 239.2,187.2 256.2,185.1 271.1,186.2 262.6,200 262.6,212.7 269,223.4 288.1,225.5 309.4,225.5 330.6,227.6 341.2,231.9 349.7,238.2 358.2,246.7 362.5,259.5 364.6,275 150,275" fill="#F5E09E"/>
<polygon points="162.7,259.5 175.5,251 192.5,246.7 203.1,242.5 213.7,238.2 230.7,238.2 247.7,240.4 269,239.3 290.2,236.1 311.5,231.9 328.5,234 337,242.5 341.2,255.2 345.5,275 162.7,275" fill="#F5CD84"/>
<polygon points="179.7,270.1 192.5,257.4 207.4,248.9 220.1,257.4 226.5,259.5 239.2,251 260.5,248.9 277.5,245.7 294.5,242.5 311.5,239.3 324.2,240.4 330.6,248.9 332.7,259.5 334.9,275 184,275" fill="#E1A564"/>
<polygon points="201,275 213.7,270.1 235,268 256.2,265.9 277.5,263.7 298.7,259.5 320,255.2 330.6,257.4 332.7,268 332.7,275" fill="#CD8540"/>
<polygon points="239.2,275 256.2,272.2 277.5,270.1 298.7,265.9 309.4,263.7 311.5,268 305.1,272.2 298.7,275" fill="#B66A28"/>
<polygon points="478.5,47 722,47 722,93.7 712.2,94.8 691,91.6 669.7,88.4 648.5,85.2 627.2,82.1 606,78.9 584.7,76.7 563.5,77.8 555,81 550.7,87.4 542.2,95.9 527.4,98 516.7,102.2 514.6,110.7 518.9,119.2 529.5,125.6 542.2,129.9 550.7,134.1 557.1,142.6 550.7,153.2 542.2,161.7 531.6,172.4 525.2,178.7 512.5,183 499.7,176.6 489.1,170.2 478.5,168.1 467.9,166 457.2,163.9 446.6,166 436,163.9 436,106.5 448.7,110.7 459.4,108.6 463.6,89.5 472.1,72.5 476.4,59.7" fill="#FFF5BA"/>
<polygon points="682.5,47 722,47 722,76.7 701.6,74.6 680.4,72.5 659.1,74.6 648.5,72.5 659.1,64 674,55.5" fill="#F5E09E"/>
<polygon points="614.5,170.2 627.2,164.9 648.5,161.7 661.2,151.1 669.7,142.6 680.4,138.4 691,151.1 686.7,161.7 669.7,170.2 661.2,178.7 663.4,191.5 676.1,208.5 665.5,214.9 648.5,217 631.5,208.5 623,195.7 616.6,183" fill="#FFF5BA"/>
<polygon points="714.4,140.5 722,132 722,178.7 716.5,170.2 714.4,153.2" fill="#FFF5BA"/>
<polygon points="538,229.7 548.6,225.5 563.5,229.7 584.7,234 601.7,242.5 610.2,251 612.4,259.5 620.9,257.4 637.9,253.1 648.5,259.5 659.1,265.9 661.2,275 529.5,275 535.9,259.5 538,244.6" fill="#FFF5BA"/>
<polygon points="436,255.2 444.5,257.4 457.2,261.6 478.5,265.9 499.7,268 510.4,275 436,275" fill="#FFF5BA"/>
<polygon points="623,132 627.2,115 637.9,110.7 646.4,115 650.6,117.1 644.2,121.4 643.2,136.2 637.9,144.7 629.4,146.9 624,140.5" fill="#CDFFCD"/>
<polygon points="676.1,244.6 686.7,242.5 701.6,248.9 712.2,257.4 722,261.6 722,275 682.5,275 678.2,259.5" fill="#CDFFCD"/>
<polygon points="722,47 1008,47 1008,275 722,275" fill="#FFF5BA"/>
<polygon points="824,47 879.2,47 877.1,55.5 866.5,64 849.5,66.1 834.6,61.9 826.1,55.5" fill="#FFFFFF"/>
<polygon points="794.2,89.5 807,85.2 817.6,86.3 824,93.7 819.7,102.2 807,108.6 796.4,110.7 792.1,100.1" fill="#FFFFFF"/>
<polygon points="773,117.1 785.7,121.4 802.7,132 828.2,138.4 849.5,136.2 870.7,134.1 887.7,138.4 904.7,146.9 909,157.5 906.9,170.2 904.7,183 913.2,195.7 926,204.2 930.2,212.7 926,219.1 913.2,221.2 904.7,217 892,212.7 879.2,208.5 870.7,200 860.1,193.6 845.2,191.5 832.5,187.2 819.7,183 807,174.5 794.2,166 781.5,161.7 770.9,155.4 764.5,140.5 766.6,125.6" fill="#FFFFFF"/>
<polygon points="722,174.5 734.7,166 749.6,159.6 756,161.7 764.5,174.5 777.2,185.1 785.7,195.7 781.5,208.5 775.1,221.2 764.5,234 751.7,238.2 739,236.1 722,234" fill="#FFFFFF"/>
<polygon points="766.6,127.7 777.2,119.2 790,121.4 807,129.9 824,134.1 841,138.4 853.7,144.7 858,151.1 849.5,155.4 832.5,157.5 819.7,161.7 811.2,166 796.4,163.9 781.5,157.5 768.7,153.2" fill="#CDFFCD"/>
<polygon points="768.7,129.9 779.4,123.5 792.1,127.7 802.7,134.1 813.4,138.4 819.7,146.9 811.2,153.2 798.5,155.4 785.7,155.4 773,153.2 768.7,144.7" fill="#99F0B2"/>
<polygon points="722,47 824,47 821.9,59.7 811.2,74.6 796.4,83.1 775.1,85.2 753.9,87.4 734.7,87.4 722,89.5" fill="#F5E09E"/>
<polygon points="726.2,151.1 734.7,144.7 747.5,144.7 753.9,151.1 749.6,159.6 736.9,161.7 728.4,157.5" fill="#F5E09E"/>
<polygon points="832.5,87.4 841,78.9 853.7,72.5 870.7,68.2 887.7,64 904.7,57.6 923.9,51.2 945.1,49.1 966.4,47 1008,47 1008,136.2 998.2,140.5 987.6,146.9 977,144.7 966.4,138.4 955.7,132 945.1,127.7 930.2,121.4 913.2,117.1 896.2,117.1 879.2,115 862.2,110.7 849.5,104.4 836.7,98" fill="#F5E09E"/>
<polygon points="926,166 943,161.7 955.7,157.5 968.5,157.5 968.5,178.7 970.6,195.7 974.9,208.5 977,227.6 987.6,238.2 998.2,244.6 1008,246.7 1008,275 955.7,275 951.5,259.5 947.2,244.6 943,234 934.5,225.5 928.1,214.9 923.9,195.7 923.9,178.7" fill="#F5E09E"/>
<polygon points="802.7,242.5 813.4,234 828.2,234 845.2,238.2 858,246.7 862.2,259.5 853.7,268 836.7,270.1 819.7,265.9 807,257.4" fill="#F5E09E"/>
<polygon points="775.1,208.5 785.7,205.3 798.5,208.5 794.2,213.8 781.5,214.9" fill="#F5E09E"/>
<polygon points="849.5,91.6 858,85.2 875,83.1 892,76.7 909,68.2 926,61.9 947.2,55.5 966.4,53.4 987.6,55.5 998.2,59.7 1008,64 1008,127.7 998.2,127.7 989.7,121.4 977,112.9 962.1,106.5 947.2,104.4 934.5,104.4 923.9,102.2 909,102.2 892,104.4 875,106.5 862.2,104.4 853.7,100.1" fill="#F5CD84"/>
<polygon points="960,221.2 968.5,214.9 974.9,217 979.1,227.6 977,238.2 970.6,242.5 964.2,236.1" fill="#F5CD84"/>
<polygon points="887.7,78.9 902.6,72.5 923.9,66.1 945.1,59.7 966.4,57.6 987.6,59.7 998.2,64 1008,68.2 1008,110.7 998.2,115 989.7,110.7 981.2,100.1 972.7,89.5 955.7,83.1 934.5,85.2 913.2,87.4 896.2,87.4" fill="#E1A564"/>
<polygon points="811.2,117.1 824,110.7 841,102.2 858,95.9 870.7,98 875,106.5 860.1,110.7 845.2,115 828.2,119.2 815.5,121.4" fill="#E1A564"/>
<polygon points="923.9,74.6 934.5,68.2 951.5,61.9 966.4,59.7 983.4,64 989.7,72.5 983.4,83.1 977,85.2 962.1,81 947.2,78.9 932.4,78.9" fill="#CD8540"/>
<polygon points="977,125.6 983.4,123.5 987.6,136.2 989.7,149 985.5,153.2 979.1,146.9 974.9,136.2" fill="#CD8540"/>
<polygon points="966.4,183 972.7,166 987.6,166 1002.5,170.2 1008,174.5 1008,187.2 998.2,195.7 985.5,204.2 977,200 970.6,191.5" fill="#CDFFCD"/>
<polygon points="974.9,178.7 983.4,170.2 994,172.4 998.2,180.9 989.7,191.5 979.1,195.7" fill="#99F0B2"/>
<polygon points="1008,47 1294,47 1294,275 1008,275" fill="#F5E09E"/>
<polygon points="1088.7,47 1120.6,47 1118.5,57.6 1105.7,61.9 1093,55.5" fill="#FFF5BA"/>
<polygon points="1156.7,47 1294,47 1294,275 1169.5,275 1156.7,255.2 1169.5,251 1182.2,238.2 1188.6,227.6 1195,212.7 1199.2,195.7 1203.5,183 1195,170.2 1182.2,157.5 1169.5,149 1161,138.4 1152.5,132 1135.5,127.7 1127,117.1 1120.6,100.1 1127,81 1135.5,68.2 1152.5,59.7" fill="#FFF5BA"/>
<polygon points="1195,104.4 1207.7,81 1220.5,66.1 1231.1,53.4 1237.5,47 1294,47 1294,185.1 1284.2,180.9 1263,174.5 1241.7,174.5 1220.5,170.2 1205.6,161.7 1199.2,144.7 1195,127.7" fill="#FFFFFF"/>
<polygon points="1182.2,275 1199.2,259.5 1220.5,251 1241.7,248.9 1263,251 1284.2,253.1 1294,254.2 1294,275" fill="#FFFFFF"/>
<polygon points="1008,161.7 1014.4,166 1018.6,176.6 1016.5,187.2 1008,193.6" fill="#FFFFFF"/>
<polygon points="1250.2,98 1258.7,83.1 1273.6,72.5 1284.2,68.2 1294,70.4 1294,123.5 1284.2,121.4 1263,112.9 1252.4,108.6" fill="#CDFFCD"/>
<polygon points="1263,93.7 1273.6,85.2 1284.2,83.1 1294,83.1 1294,102.2 1282.1,102.2 1269.4,100.1" fill="#99F0B2"/>
<polygon points="1008,47 1088.7,47 1084.5,59.7 1076,74.6 1071.7,89.5 1067.5,106.5 1071.7,117.1 1084.5,132 1093,144.7 1099.4,157.5 1107.9,170.2 1120.6,174.5 1135.5,174.5 1144,183 1139.7,195.7 1127,208.5 1110,214.9 1093,217 1071.7,223.4 1050.5,229.7 1029.2,236.1 1008,238.2" fill="#F5CD84"/>
<polygon points="1022.9,85.2 1035.6,74.6 1048.4,74.6 1050.5,89.5 1039.9,98 1025,98" fill="#F5E09E"/>
<polygon points="1008,53.4 1020.7,51.2 1035.6,55.5 1029.2,61.9 1016.5,64 1008,66.1" fill="#E1A564"/>
<polygon points="1008,89.5 1014.4,87.4 1018.6,106.5 1016.5,123.5 1008,132" fill="#E1A564"/>
<polygon points="1071.7,187.2 1080.2,183 1088.7,187.2 1084.5,193.6 1076,193.6" fill="#E1A564"/>
<polygon points="1107.9,189.4 1118.5,186.2 1127,189.4 1118.5,193.6 1110,193.6" fill="#E1A564"/>
<polygon points="1012.2,242.5 1020.7,240.4 1025,248.9 1016.5,253.1 1008,251" fill="#E1A564"/>
<polygon points="150,275 436,275 436,415.2 424.1,415.2 409.2,411 394.4,413.1 379.5,413.1 362.5,406.7 349.7,402.5 337,398.2 320,390.8 298.7,385.5 277.5,382.3 256.2,381.2 235,382.3 213.7,384.4 192.5,386.6 171.2,385.5 150,383.4" fill="#FFF5BA"/>
<polygon points="150,275 436,275 436,406.7 422,408.9 405,402.5 390.1,400.4 375.2,396.1 358.2,394 345.5,394 330.6,389.7 309.4,383.4 288.1,379.1 266.9,377 245.6,377 224.4,379.1 203.1,381.2 181.9,379.1 160.6,374.9 150,372.7" fill="#F5E09E"/>
<polygon points="150,275 394.4,275 392.2,287.7 388,304.7 379.5,317.5 371,330.2 366.7,343 375.2,355.7 388,368.5 394.4,385.5 388,394 373.1,394 358.2,391.9 345.5,390.8 330.6,385.5 309.4,380.2 288.1,377 266.9,374.9 245.6,374.9 224.4,375.9 203.1,377 181.9,373.8 160.6,366.4 150,362.1" fill="#F5CD84"/>
<polygon points="154.2,275 362.5,275 358.2,287.7 354,304.7 345.5,317.5 337,330.2 341.2,345.1 354,355.7 373.1,366.4 385.9,377 390.1,387.6 379.5,392.9 362.5,390.8 347.6,389.7 330.6,383.4 309.4,379.1 288.1,375.9 266.9,373.2 245.6,373.2 224.4,374.4 213.7,374.9 201,364.2 194.6,347.2 188.2,328.1 181.9,306.9 171.2,294.1 158.5,283.5" fill="#E1A564"/>
<polygon points="150,351.5 158.5,353.6 167,360 173.4,366.4 167,372.7 156.4,370.6 150,368.5" fill="#E1A564"/>
<polygon points="192.5,275 341.2,275 337,287.7 328.5,300.5 320,313.2 311.5,323.9 320,336.6 337,347.2 354,355.7 373.1,366.4 383.7,377 385.9,387.6 373.1,391.9 351.9,387.6 330.6,381.2 309.4,377 288.1,373.8 266.9,371.7 245.6,371.7 224.4,372.7 213.7,370.6 209.5,355.7 205.2,338.7 201,317.5 196.7,296.2" fill="#CD8540"/>
<polygon points="150,355.7 158.5,356.8 169.1,362.1 175.5,368.5 169.1,374.9 158.5,372.7 150,370.6" fill="#CD8540"/>
<polygon points="207.4,275 288.1,275 281.7,287.7 273.2,296.2 269,306.9 269,317.5 277.5,326 294.5,336.6 315.7,345.1 337,351.5 354,360 371,368.5 381.6,379.1 375.2,387.6 358.2,385.5 341.2,379.1 320,372.7 298.7,368.5 281.7,366.4 266.9,366.4 252,368.5 239.2,366.4 230.7,351.5 224.4,328.1 220.1,306.9 213.7,287.7" fill="#B66A28"/>
<polygon points="419.9,419.5 426.2,413.1 436,411 436,428 426.2,425.9" fill="#E1A564"/>
<polygon points="150,383.4 171.2,387.6 192.5,389.7 213.7,389.7 235,387.6 256.2,385.5 277.5,385.5 298.7,389.7 320,394 341.2,402.5 351.9,411 362.5,415.2 373.1,423.7 379.5,423.7 388,415.2 405,411 422,415.2 436,419.5 436,466.2 426.2,470.5 422,479 426.2,491.7 436,500.2 436,504.1 383.7,504.1 379.5,487.5 373.1,476.9 366.7,466.2 362.5,459.9 354,453.5 341.2,449.2 320,445 298.7,440.7 277.5,436.5 256.2,434.4 235,436.5 220.1,442.9 213.7,457.7 211.6,474.7 203.1,487.5 181.9,491.7 150,493.9" fill="#CDFFCD"/>
<polygon points="150,406.7 171.2,402.5 192.5,398.2 213.7,396.1 235,394 256.2,394 277.5,396.1 298.7,400.4 320,404.6 341.2,411 358.2,421.6 371,432.2 371,442.9 362.5,447.1 351.9,445 341.2,442.9 320,438.6 298.7,434.4 277.5,430.1 256.2,428 235,428 213.7,432.2 192.5,436.5 171.2,442.9 150,447.1" fill="#99F0B2"/>
<polygon points="254.1,483.2 266.9,476.9 288.1,473.7 309.4,473.7 330.6,476.9 351.9,479 362.5,485.4 362.5,493.9 341.2,496 320,493.9 298.7,496 288.1,500.2 277.5,504.1 260.5,504.1 255.2,493.9" fill="#FFF5BA"/>
<polygon points="436,275 722,275 722,504.1 436,504.1" fill="#FFF5BA"/>
<polygon points="572,313.2 584.7,311.1 601.7,309 616.6,304.7 627.2,300.5 640,296.2 648.5,292 661.2,287.7 674,281.4 686.7,275 722,275 722,292 712.2,298.4 699.5,306.9 686.7,315.4 674,323.9 661.2,330.2 648.5,336.6 637.9,340.9 627.2,345.1 618.7,351.5 610.2,360 597.5,368.5 584.7,377 576.2,381.2 574.1,370.6 576.2,355.7 578.4,338.7 574.1,326" fill="#FFFFFF"/>
<polygon points="665.5,287.7 674,279.2 680.4,275 703.7,275 701.6,285.6 691,289.9 678.2,292" fill="#CDFFCD"/>
<polygon points="623,336.6 627.2,317.5 637.9,309 652.7,304.7 665.5,306.9 674,317.5 669.7,330.2 659.1,338.7 648.5,343 637.9,347.2 627.2,345.1" fill="#CDFFCD"/>
<polygon points="436,275 535.9,275 540.1,287.7 548.6,300.5 557.1,311.1 563.5,321.7 569.9,334.5 572,349.4 576.2,364.2 580.5,377 584.7,381.2 597.5,374.9 610.2,368.5 623,364.2 635.7,360 648.5,351.5 661.2,345.1 674,338.7 686.7,328.1 699.5,317.5 712.2,309 722,304.7 722,487.5 712.2,483.2 691,476.9 669.7,472.6 648.5,470.5 627.2,466.2 606,462 589,457.7 576.2,451.4 567.7,442.9 559.2,432.2 550.7,423.7 542.2,428 533.7,440.7 529.5,453.5 527.4,466.2 512.5,474.7 499.7,483.2 489.1,487.5 478.5,479 467.9,474.7 457.2,466.2 448.7,457.7 444.5,445 442.4,432.2 436,428" fill="#F5E09E"/>
<polygon points="538,445 546.5,438.6 555,436.5 563.5,440.7 567.7,449.2 563.5,462 555,470.5 548.6,479 546.5,487.5 550.7,504.1 529.5,504.1 527.4,491.7 531.6,476.9 535.9,462" fill="#FFFFFF"/>
<polygon points="436,423.7 442.4,428 444.5,445 442.4,457.7 436,462" fill="#FFFFFF"/>
<polygon points="436,434.4 440.2,436.5 441.3,449.2 436,453.5" fill="#CDFFCD"/>
<polygon points="497.6,504.1 504,487.5 512.5,474.7 525.2,466.2 535.9,468.4 542.2,479 544.4,493.9 542.2,504.1" fill="#CDFFCD"/>
<polygon points="506.1,504.1 512.5,491.7 521,483.2 529.5,485.4 533.7,496 531.6,504.1" fill="#99F0B2"/>
<polygon points="436,402.5 448.7,400.4 461.5,398.2 478.5,394 491.2,377 499.7,360 516.7,351.5 531.6,347.2 546.5,355.7 559.2,366.4 567.7,377 567.7,389.7 563.5,402.5 555,415.2 546.5,423.7 542.2,436.5 535.9,451.4 525.2,462 512.5,470.5 499.7,476.9 487,479 474.2,472.6 461.5,462 450.9,449.2 444.5,436.5 440.2,423.7 436,419.5" fill="#F5CD84"/>
<polygon points="584.7,394 597.5,385.5 610.2,379.1 627.2,372.7 644.2,366.4 659.1,360 674,353.6 691,347.2 708,343 722,338.7 722,428 712.2,436.5 691,445 669.7,453.5 648.5,457.7 627.2,457.7 606,455.6 593.2,445 584.7,432.2 582.6,415.2" fill="#F5CD84"/>
<polygon points="487,302.6 493.4,298.4 499.7,302.6 495.5,309 489.1,309" fill="#F5CD84"/>
<polygon points="453,413.1 467.9,406.7 482.7,400.4 495.5,385.5 506.1,370.6 521,362.1 533.7,360 546.5,366.4 557.1,374.9 561.4,385.5 557.1,398.2 548.6,411 542.2,423.7 538,438.6 529.5,453.5 516.7,464.1 504,470.5 489.1,472.6 476.4,466.2 465.7,455.6 457.2,442.9 453,428" fill="#E1A564"/>
<polygon points="589,411 601.7,400.4 618.7,391.9 637.9,385.5 659.1,379.1 680.4,372.7 701.6,366.4 722,362.1 722,413.1 712.2,421.6 691,430.1 669.7,440.7 648.5,449.2 627.2,451.4 606,449.2 595.4,440.7 589,428" fill="#E1A564"/>
<polygon points="457.2,419.5 470,413.1 487,406.7 499.7,394 512.5,377 525.2,370.6 538,370.6 550.7,377 557.1,387.6 552.9,400.4 544.4,413.1 538,428 531.6,442.9 523.1,455.6 510.4,464.1 495.5,468.4 482.7,464.1 472.1,453.5 463.6,440.7 459.4,428" fill="#CD8540"/>
<polygon points="593.2,423.7 606,415.2 623,408.9 640,402.5 661.2,396.1 682.5,389.7 703.7,383.4 722,379.1 722,406.7 712.2,413.1 691,423.7 669.7,432.2 648.5,440.7 627.2,445 610.2,442.9 599.6,436.5" fill="#CD8540"/>
<polygon points="463.6,423.7 476.4,419.5 491.2,415.2 504,402.5 516.7,387.6 527.4,379.1 538,377 548.6,381.2 553.9,389.7 550.7,400.4 542.2,411 535.9,423.7 529.5,436.5 521,449.2 508.2,457.7 495.5,462 482.7,457.7 474.2,447.1 467.9,436.5" fill="#B66A28"/>
<polygon points="597.5,434.4 612.4,428 627.2,423.7 644.2,419.5 665.5,415.2 686.7,411 703.7,406.7 722,402.5 722,408.9 708,415.2 691,423.7 669.7,432.2 648.5,440.7 631.5,442.9 614.5,442.9 603.9,440.7" fill="#B66A28"/>
<polygon points="722,275 1008,275 1008,504.1 722,504.1" fill="#FFF5BA"/>
<polygon points="722,275 756,275 747.5,283.5 734.7,292 722,296.2" fill="#FFFFFF"/>
<polygon points="824,317.5 841,302.6 858,287.7 870.7,279.2 883.5,277.1 892,283.5 889.9,296.2 879.2,309 866.5,321.7 853.7,334.5 841,345.1 830.4,351.5 824,343 821.9,330.2" fill="#FFFFFF"/>
<polygon points="964.2,317.5 972.7,315.4 981.2,319.6 979.1,328.1 968.5,330.2" fill="#FFFFFF"/>
<polygon points="926,345.1 934.5,340.9 940.9,345.1 940.9,364.2 934.5,368.5 926,364.2" fill="#FFFFFF"/>
<polygon points="722,296.2 734.7,292 747.5,287.7 764.5,283.5 773,296.2 777.2,309 785.7,321.7 794.2,332.4 802.7,345.1 811.2,355.7 819.7,364.2 828.2,372.7 841,377 853.7,372.7 870.7,368.5 883.5,372.7 887.7,385.5 870.7,389.7 849.5,394 828.2,398.2 807,400.4 785.7,402.5 764.5,406.7 743.2,413.1 722,419.5" fill="#F5E09E"/>
<polygon points="945.1,368.5 951.5,364.2 962.1,368.5 970.6,381.2 977,394 974.9,406.7 966.4,402.5 955.7,394 947.2,381.2" fill="#F5E09E"/>
<polygon points="994,275 1008,275 1008,309 998.2,304.7 991.9,292" fill="#F5E09E"/>
<polygon points="722,317.5 730.5,321.7 734.7,338.7 728.4,351.5 722,355.7" fill="#F5E09E"/>
<polygon points="722,374.9 743.2,379.1 764.5,383.4 785.7,389.7 807,396.1 817.6,402.5 828.2,398.2 838.9,394 849.5,391.9 862.2,394 853.7,400.4 828.2,404.6 807,406.7 785.7,408.9 764.5,413.1 743.2,417.4 722,421.6" fill="#F5CD84"/>
<polygon points="722,394 743.2,396.1 764.5,398.2 781.5,402.5 764.5,406.7 743.2,411 722,413.1" fill="#E1A564"/>
<polygon points="951.5,381.2 960,377 968.5,385.5 972.7,398.2 968.5,406.7 960,402.5 953.6,391.9" fill="#E1A564"/>
<polygon points="996.1,285.6 1002.5,279.2 1008,279.2 1008,302.6 1000.4,298.4" fill="#E1A564"/>
<polygon points="722,402.5 743.2,404.6 760.2,406.7 743.2,408.9 722,411" fill="#CD8540"/>
<polygon points="955.7,387.6 964.2,389.7 966.4,398.2 962.1,402.5 957.9,396.1" fill="#CD8540"/>
<polygon points="734.7,421.6 764.5,411 807,402.5 849.5,400.4 870.7,397.2 892,391.9 909,383.4 923.9,372.7 928.1,355.7 934.5,351.5 940.9,353.6 945.1,368.5 947.2,381.2 955.7,394 966.4,402.5 974.9,406.7 981.2,394 983.4,377 994,366.4 1008,364.2 1008,504.1 911.1,504.1 904.7,487.5 892,476.9 870.7,466.2 849.5,457.7 828.2,451.4 807,445 785.7,438.6 764.5,428 749.6,419.5" fill="#CDFFCD"/>
<polygon points="747.5,421.6 775.1,415.2 807,411 838.9,406.7 870.7,402.5 892,398.2 909,391.9 923.9,383.4 930.2,364.2 940.9,355.7 943,372.7 947.2,391.9 955.7,406.7 968.5,415.2 981.2,406.7 985.5,385.5 994,372.7 1008,370.6 1008,487.5 998.2,485.4 977,479 955.7,474.7 934.5,468.4 913.2,462 892,455.6 870.7,449.2 849.5,442.9 828.2,438.6 807,436.5 785.7,434.4 768.7,430.1 753.9,425.9" fill="#99F0B2"/>
<polygon points="734.7,436.5 743.2,421.6 749.6,419.5 764.5,428 785.7,438.6 807,445 828.2,451.4 849.5,457.7 870.7,466.2 892,476.9 904.7,487.5 911.1,504.1 841,504.1 828.2,496 807,485.4 785.7,474.7 764.5,464.1 747.5,453.5 736.9,445" fill="#FFFFFF"/>
<polygon points="1029.2,275 1184.4,275 1178,283.5 1156.7,287.7 1135.5,289.9 1114.2,287.7 1097.2,285.6 1071.7,283.5 1050.5,281.4 1033.5,279.2" fill="#FFF5BA"/>
<polygon points="1016.5,277.1 1033.5,275 1046.2,281.4 1042,287.7 1029.2,289.9 1018.6,285.6" fill="#E1A564"/>
<polygon points="1008,285.6 1029.2,281.4 1061.1,285.6 1093,287.7 1114.2,292 1118.5,306.9 1131.2,317.5 1156.7,319.6 1178,309 1199.2,292 1212,283.5 1220.5,281.4 1241.7,287.7 1254.5,304.7 1256.6,328.1 1254.5,345.1 1241.7,353.6 1220.5,357.9 1199.2,360 1178,364.2 1156.7,368.5 1144,368.5 1135.5,364.2 1127,360 1114.2,364.2 1105.7,377 1097.2,385.5 1088.7,402.5 1088.7,423.7 1093,445 1088.7,466.2 1084.5,476.9 1071.7,483.2 1050.5,481.1 1029.2,474.7 1008,470.5" fill="#CDFFCD"/>
<polygon points="1008,296.2 1025,294.1 1039.9,296.2 1061.1,302.6 1078.1,313.2 1088.7,328.1 1093,345.1 1097.2,360 1099.4,370.6 1093,377 1080.2,374.9 1067.5,370.6 1054.7,368.5 1039.9,372.7 1029.2,385.5 1020.7,402.5 1016.5,419.5 1014.4,436.5 1008,445" fill="#99F0B2"/>
<polygon points="1008,445 1016.5,440.7 1029.2,445 1050.5,453.5 1071.7,459.9 1088.7,462 1097.2,466.2 1103.6,479 1114.2,487.5 1135.5,485.4 1156.7,479 1178,483.2 1199.2,489.6 1209.9,504.1 1008,504.1" fill="#CDFFCD"/>
<polygon points="1241.7,476.9 1252.4,466.2 1263,472.6 1273.6,485.4 1284.2,498.1 1294,504.1 1241.7,504.1" fill="#CDFFCD"/>
<polygon points="1008,347.2 1016.5,349.4 1020.7,357.9 1014.4,362.1 1008,362.1" fill="#E1A564"/>
<polygon points="1027.1,402.5 1039.9,383.4 1054.7,374.9 1071.7,370.6 1086.6,369.6 1099.4,360 1114.2,355.7 1127,360 1139.7,372.7 1156.7,377 1178,374.9 1199.2,372.7 1220.5,372.7 1241.7,374.9 1263,379.1 1284.2,383.4 1294,385.5 1294,466.2 1273.6,459.9 1252.4,453.5 1231.1,449.2 1216.2,451.4 1205.6,462 1195,466.2 1182.2,457.7 1169.5,451.4 1152.5,447.1 1131.2,442.9 1110,438.6 1088.7,434.4 1067.5,432.2 1046.2,432.2 1031.4,425.9" fill="#F5E09E"/>
<polygon points="1220.5,366.4 1241.7,366.4 1263,368.5 1284.2,370.6 1294,372.7 1294,385.5 1284.2,383.4 1263,379.1 1241.7,374.9 1220.5,372.7 1199.2,372.7 1199.2,368.5" fill="#FFF5BA"/>
<polygon points="1029.2,406.7 1042,387.6 1056.9,379.1 1071.7,374.9 1084.5,373.8 1097.2,381.2 1101.5,394 1107.9,411 1122.7,415.2 1135.5,406.7 1144,389.7 1148.2,381.2 1169.5,383.4 1190.7,385.5 1212,387.6 1233.2,391.9 1254.5,398.2 1275.7,404.6 1294,408.9 1294,462 1273.6,455.6 1252.4,449.2 1231.1,445 1216.2,445 1205.6,455.6 1195,457.7 1182.2,451.4 1169.5,445 1152.5,440.7 1131.2,436.5 1110,432.2 1088.7,430.1 1067.5,428 1046.2,428 1033.5,421.6" fill="#F5CD84"/>
<polygon points="1033.5,411 1046.2,394 1059,383.4 1071.7,379.1 1082.4,379.1 1090.9,389.7 1093,406.7 1099.4,419.5 1107.9,423.7 1118.5,421.6 1127,413.1 1135.5,398.2 1141.9,389.7 1156.7,389.7 1178,394 1199.2,398.2 1220.5,402.5 1241.7,408.9 1263,415.2 1284.2,421.6 1294,423.7 1294,457.7 1273.6,451.4 1252.4,445 1231.1,440.7 1218.4,440.7 1207.7,449.2 1195,451.4 1184.4,445 1171.6,440.7 1156.7,436.5 1135.5,432.2 1114.2,430.1 1093,428 1071.7,425.9 1050.5,423.7 1037.7,419.5" fill="#E1A564"/>
<polygon points="1050.5,402.5 1061.1,389.7 1071.7,385.5 1080.2,387.6 1084.5,402.5 1088.7,415.2 1082.4,421.6 1071.7,421.6 1059,419.5 1050.5,413.1" fill="#CD8540"/>
<polygon points="1144,394 1156.7,396.1 1173.7,402.5 1190.7,408.9 1209.9,415.2 1231.1,421.6 1252.4,425.9 1273.6,430.1 1294,432.2 1294,451.4 1273.6,447.1 1252.4,440.7 1231.1,436.5 1216.2,436.5 1203.5,440.7 1190.7,442.9 1178,436.5 1165.2,430.1 1152.5,423.7 1146.1,411" fill="#CD8540"/>
<polygon points="1148.2,400.4 1161,402.5 1169.5,411 1173.7,423.7 1169.5,432.2 1161,428 1154.6,419.5 1150.4,411" fill="#B66A28"/>
<polygon points="1190.7,419.5 1209.9,423.7 1231.1,428 1252.4,432.2 1273.6,436.5 1294,438.6 1294,445 1273.6,442.9 1252.4,438.6 1231.1,434.4 1212,432.2 1195,428" fill="#B66A28"/>
<polygon points="1067.5,394 1076,391.9 1080.2,402.5 1078.1,413.1 1071.7,415.2 1069.6,406.7" fill="#B66A28"/>
<polygon points="1103.6,377 1114.2,370.6 1127,377 1135.5,389.7 1127,402.5 1114.2,404.6 1105.7,396.1" fill="#FFFFFF"/>
<polygon points="150,224.1 163.4,223 183.4,218.5 201.3,211.8 212.4,202.9 216.9,194 308.2,194 323.8,202.9 339.5,211.8 350.6,227.4 361.7,238.6 384,245.3 417.5,247.5 450,249.7 450,354 150,354" fill="#FFF5BA"/>
<polygon points="150,245.3 167.8,238.6 183.4,234.1 196.8,220.7 207.9,209.6 221.3,198.5 230.2,194 261.4,194 261.4,211.8 270.4,223 288.2,227.4 306,227.4 328.3,231.9 346.1,245.3 359.5,256.4 372.9,267.6 384,278.7 395.2,283.2 406.3,292.1 408.5,305.4 417.5,314.4 439.7,318.8 450,318.8 450,354 150,354" fill="#F5E09E"/>
<polygon points="150,265.3 163.4,260.9 179,258.6 194.6,247.5 207.9,238.6 223.6,245.3 239.2,240.8 261.4,238.6 274.8,243 292.6,238.6 310.5,234.1 328.3,236.3 339.5,245.3 350.6,260.9 361.7,278.7 372.9,289.8 384,298.8 395.2,307.7 406.3,318.8 417.5,327.7 439.7,332.2 450,332.2 450,354 150,354" fill="#F5CD84"/>
<polygon points="163.4,278.7 176.7,269.8 190.1,260.9 207.9,245.3 221.3,256.4 239.2,249.7 261.4,247.5 279.3,247.5 301.6,245.3 323.8,240.8 335,247.5 341.7,260.9 350.6,276.5 361.7,289.8 372.9,301 384,312.1 395.2,323.3 406.3,336.6 417.5,350 424.1,354 150,354 150,294.3" fill="#E1A564"/>
<polygon points="190.1,274.2 205.7,267.6 225.8,265.3 239.2,258.6 261.4,256.4 283.7,254.2 306,249.7 326.1,245.3 332.8,256.4 330.5,267.6 332.8,283.2 341.7,298.8 350.6,314.4 361.7,327.7 372.9,341.1 384,354 194.6,354 192.3,327.7 190.1,301" fill="#CD8540"/>
<polygon points="205.7,278.7 221.3,274.2 239.2,269.8 261.4,267.6 283.7,265.3 306,264.2 310.5,267.6 292.6,274.2 274.8,283.2 265.9,292.1 265.9,305.4 270.4,318.8 279.3,332.2 292.6,345.6 301.6,354 228,354 223.6,327.7 216.9,305.4 210.2,289.8" fill="#B66A28"/>
<polygon points="714.1,139.1 723,134.7 734.9,130.2 748.3,130.2 752.8,136.2 751.3,151 749.8,162.9 743.8,170.3 734.9,174.8 730.5,186.7 724.5,188.2 720.1,177.8 715.6,165.9 714.1,151" fill="#FFF5BA"/>
<polygon points="724.5,151 734.9,143.6 746.8,145.1 751.3,151 745.3,157 732,158.4" fill="#F5E09E"/>
<polygon points="751.3,118.3 755.7,116.8 763.2,116.8 769.1,121.3 767.6,130.2 766.1,142.1 764.6,151 769.1,159.9 770.6,168.8 763.2,174.8 755.7,174.8 751.3,168.8 749.8,151 751.3,136.2" fill="#FFFFFF"/>
<polygon points="662.1,180.7 671,173.3 684.4,168.8 699.3,170.3 711.2,174.8 723,188.2 730.5,186.7 734.9,174.8 749.8,168.8 755.7,174.8 764.6,183.7 770.6,189.6 770.6,198.6 764.6,207.5 761.7,216.4 764.6,225.3 761.7,232.7 749.8,234.2 740.9,229.8 726,229.8 711.2,231.2 696.3,229.8 681.4,219.4 677,207.5 666.6,197.1 660.6,188.2" fill="#FFFFFF"/>
<polygon points="930,47 1130,47 1130,274.9 930,274.9" fill="#F5CD84"/>
<polygon points="1086,47 1130,47 1130,73.7 1123.2,72.3 1108.3,69.3 1093.4,64.8 1087.5,55.9" fill="#F5E09E"/>
<polygon points="1114.2,81.2 1123.2,78.2 1130,79.7 1130,173.3 1123.2,170.3 1115.7,151 1117.2,128.7 1115.7,106.4" fill="#F5E09E"/>
<polygon points="930,88.6 947.8,91.6 959.7,99 964.2,109.4 962.7,118.3 967.1,130.2 971.6,142.1 967.1,159.9 959.7,171.8 962.7,189.6 968.6,204.5 974.6,214.9 982,217.9 992.4,219.4 1001.3,213.4 1013.2,210.4 1026.6,213.4 1041.4,216.4 1051.8,222.3 1057.8,232.7 1063.7,240.2 1072.6,247.6 1078.6,255 1084.5,274.9 930,274.9" fill="#F5E09E"/>
<polygon points="1108.3,217.9 1123.2,210.4 1130,207.5 1130,274.9 1108.3,274.9 1105.3,255 1106.8,232.7" fill="#F5E09E"/>
<polygon points="1022.1,88.6 1034,81.2 1047.4,73.7 1050.4,85.6 1042.9,96 1034,99 1025.1,96" fill="#FFF5BA"/>
<polygon points="930,128.7 941.9,124.3 952.3,136.2 955.3,151 947.8,165.9 938.9,173.3 930,174.8" fill="#FFF5BA"/>
<polygon points="1019.2,165.9 1034,168.8 1037,180.7 1031,192.6 1022.1,195.6 1016.2,188.2 1013.2,176.3" fill="#FFF5BA"/>
<polygon points="1121.7,82.7 1130,81.2 1130,121.3 1123.2,118.3 1120.2,103.5" fill="#FFF5BA"/>
<polygon points="1093.4,47 1123.2,47 1123.2,58.9 1108.3,61.9 1096.4,55.9" fill="#FFF5BA"/>
<polygon points="930,51.5 944.9,50 959.7,51.5 974.6,50 992.4,51.5 1007.3,48.5 1034,54.4 1031,60.4 1016.2,63.3 1007.3,69.3 1001.3,76.7 999.8,88.6 1007.3,102 1016.2,110.9 1019.2,121.3 1013.2,130.2 1001.3,136.2 995.4,148 992.4,157 983.5,159.9 974.6,154 967.1,148 959.7,139.1 955.3,127.2 950.8,115.4 944.9,106.4 937.4,99 930,96" fill="#E1A564"/>
<polygon points="959.7,217.9 968.6,216.4 974.6,225.3 977.5,237.2 971.6,244.6 964.2,240.2 959.7,228.3" fill="#E1A564"/>
<polygon points="1013.2,243.1 1019.2,240.2 1025.1,246.1 1019.2,250.6 1013.2,249.1" fill="#E1A564"/>
<polygon points="1072.6,186.7 1084.5,183.7 1096.4,188.2 1087.5,192.6 1075.6,191.9" fill="#E1A564"/>
<polygon points="1108.3,188.2 1120.2,186.7 1129.1,189.6 1120.2,192.6 1109.8,191.9" fill="#E1A564"/>
<polygon points="930,64.8 941.9,58.9 959.7,55.9 974.6,60.4 989.4,72.3 982,78.2 967.1,79.7 952.3,79.7 937.4,78.2 930,76.7" fill="#CD8540"/>
<polygon points="976.1,127.2 982,122.8 989.4,130.2 993.9,142.1 990.9,152.5 985,155.5 977.5,151 973.1,142.1" fill="#CD8540"/>
<polygon points="962.7,180.7 968.6,164.4 986.5,161.4 1007.3,162.9 1019.2,170.3 1019.2,188.2 1010.2,198.6 995.4,206 983.5,211.9 974.6,209 965.7,198.6 962.7,189.6" fill="#FFFFFF"/>
<polygon points="965.7,180.7 971.6,165.9 986.5,162.9 1004.3,165.9 1013.2,173.3 1013.2,185.2 1007.3,195.6 995.4,201.5 983.5,207.5 974.6,204.5 967.1,195.6" fill="#CDFFCD"/>
<polygon points="971.6,177.8 976.1,165.9 989.4,164.4 1001.3,168.8 1004.3,177.8 998.4,189.6 989.4,197.1 980.5,201.5 973.1,194.1" fill="#99F0B2"/>
<polygon points="380,275 780,275 780,504.1 380,504.1" fill="#FFF5BA"/>
<polygon points="573.2,331.5 588,325.5 611.8,319.6 635.6,310.7 659.3,298.8 674.2,286.9 677.2,275 780,275 780,292.8 760.4,298.8 736.6,295.8 712.8,292.8 689.1,298.8 671.2,310.7 653.4,322.5 638.5,334.4 629.6,346.3 617.7,361.2 599.9,376 585.1,382 576.1,373.1 576.1,352.3" fill="#FFFFFF"/>
<polygon points="623.7,325.5 638.5,310.7 662.3,304.7 674.2,316.6 665.3,334.4 647.5,346.3 632.6,352.3 623.7,343.4" fill="#CDFFCD"/>
<polygon points="671.2,275 703.9,275 698,283.9 683.1,286.9" fill="#CDFFCD"/>
<polygon points="380,275 534.5,275 546.4,292.8 558.3,304.7 570.2,319.6 573.2,334.4 576.1,352.3 573.2,373.1 570.2,387.9 558.3,393.9 546.4,390.9 528.6,387.9 510.8,390.9 492.9,393.9 475.1,399.8 457.3,405.8 433.5,408.7 409.7,411.7 388.9,411.7 380,408.7" fill="#F5E09E"/>
<polygon points="391.9,387.9 424.6,385 454.3,387.9 469.2,393.9 454.3,402.8 424.6,405.8 397.8,402.8" fill="#FFF5BA"/>
<polygon points="380,370.1 388.9,367.1 393.4,382 391.9,399.8 380,402.8" fill="#E1A564"/>
<polygon points="380,376 385.9,377.5 387.4,393.9 380,396.8" fill="#CD8540"/>
<polygon points="380,414.7 397.8,411.7 415.7,414.7 433.5,423.6 439.4,441.4 436.5,459.2 427.5,477.1 421.6,489 409.7,504.1 380,504.1" fill="#CDFFCD"/>
<polygon points="391.9,417.6 409.7,416.2 418.6,423.6 409.7,435.5 397.8,438.4 385.9,432.5" fill="#99F0B2"/>
<polygon points="424.6,435.5 436.5,438.4 433.5,447.4 424.6,444.4" fill="#99F0B2"/>
<polygon points="418.6,414.7 439.4,402.8 457.3,385 475.1,367.1 498.9,352.3 519.7,346.3 540.5,352.3 558.3,364.2 570.2,379 573.2,399.8 567.2,417.6 558.3,429.5 546.4,441.4 540.5,459.2 528.6,477.1 516.7,491.9 504.8,500.9 490,504.1 469.2,504.1 448.4,489 439.4,471.1 433.5,450.3 427.5,432.5" fill="#F5CD84"/>
<polygon points="427.5,417.6 445.4,408.7 463.2,390.9 481,373.1 501.8,361.2 519.7,355.2 537.5,361.2 552.4,373.1 561.3,387.9 561.3,405.8 552.4,420.6 540.5,435.5 531.6,453.3 522.6,471.1 510.8,486 498.9,494.9 481,497.9 463.2,489 451.3,471.1 442.4,450.3 436.5,432.5" fill="#E1A564"/>
<polygon points="439.4,420.6 457.3,411.7 472.1,396.8 487,382 504.8,370.1 522.6,367.1 540.5,376 552.4,387.9 555.3,402.8 546.4,417.6 534.5,432.5 525.6,450.3 516.7,468.2 504.8,483 492.9,489 478.1,486 466.2,474.1 457.3,456.3 451.3,438.4 445.4,429.5" fill="#CD8540"/>
<polygon points="451.3,423.6 466.2,414.7 481,402.8 495.9,387.9 510.8,379 528.6,376 543.4,385 549.4,396.8 543.4,411.7 531.6,426.6 522.6,444.4 513.7,462.2 501.8,477.1 490,480.1 478.1,474.1 469.2,459.2 463.2,441.4 457.3,432.5" fill="#B66A28"/>
<polygon points="534.5,441.4 546.4,435.5 558.3,438.4 558.3,453.3 552.4,468.2 549.4,483 552.4,504.1 528.6,504.1 534.5,483 540.5,465.2" fill="#FFFFFF"/>
<polygon points="504.8,504.1 510.8,483 522.6,468.2 534.5,465.2 546.4,477.1 546.4,504.1" fill="#CDFFCD"/>
<polygon points="513.7,504.1 519.7,489 531.6,480.1 540.5,489 540.5,504.1" fill="#99F0B2"/>
<polygon points="576.1,393.9 594,376 617.7,364.2 641.5,352.3 665.3,343.4 689.1,334.4 712.8,325.5 736.6,319.6 760.4,313.6 780,310.7 780,483 766.3,480.1 736.6,477.1 706.9,477.1 677.2,474.1 647.5,471.1 617.7,468.2 594,465.2 576.1,459.2 570.2,441.4 570.2,417.6" fill="#F5E09E"/>
<polygon points="582.1,411.7 599.9,393.9 623.7,382 647.5,370.1 671.2,361.2 695,355.2 718.8,352.3 742.6,352.3 766.3,355.2 780,358.2 780,441.4 760.4,441.4 736.6,444.4 706.9,450.3 677.2,456.3 647.5,459.2 617.7,459.2 594,453.3 585.1,438.4" fill="#F5CD84"/>
<polygon points="641.5,370.1 653.4,364.2 665.3,373.1 656.4,385 644.5,382" fill="#E1A564"/>
<polygon points="677.2,364.2 695,358.2 706.9,367.1 695,376" fill="#E1A564"/>
<polygon points="588,420.6 605.9,405.8 629.6,396.8 653.4,390.9 677.2,387.9 701,387.9 724.7,390.9 748.5,393.9 780,393.9 780,423.6 760.4,426.6 736.6,429.5 706.9,438.4 677.2,447.4 647.5,453.3 617.7,453.3 596.9,447.4 588,435.5" fill="#E1A564"/>
<polygon points="594,429.5 611.8,417.6 635.6,411.7 659.3,408.7 683.1,408.7 706.9,405.8 730.7,402.8 754.4,399.8 780,398.3 780,414.7 754.4,417.6 730.7,420.6 706.9,426.6 683.1,435.5 659.3,444.4 635.6,450.3 611.8,450.3 596.9,444.4" fill="#CD8540"/>
<polygon points="599.9,435.5 617.7,426.6 641.5,423.6 665.3,423.6 689.1,420.6 706.9,414.7 724.7,411.7 706.9,420.6 689.1,429.5 671.2,438.4 647.5,445.9 623.7,447.4 605.9,444.4" fill="#B66A28"/>
<polygon points="733.6,432.5 748.5,420.6 780,408.7 780,450.3 757.4,456.3 736.6,447.4" fill="#FFFFFF"/>
<polygon points="751.5,426.6 766.3,417.6 780,414.7 780,444.4 763.4,444.4" fill="#CDFFCD"/>
<polygon points="430,214 596.4,214 759.9,214 762.8,222.9 756.9,231.8 727.2,231.8 697.5,234.8 676.7,240.7 667.7,255.6 655.9,258.6 638,255.6 614.2,252.6 596.4,240.7 578.6,231.8 554.8,222.9 540,225.9 531,243.7 519.2,255.6 501.3,261.5 483.5,264.5 459.7,255.6 430,249.7" fill="#FFFFFF"/>
<polygon points="430,249.7 459.7,255.6 483.5,264.5 501.3,261.5 519.2,255.6 531,243.7 540,225.9 554.8,222.9 578.6,231.8 596.4,240.7 614.2,252.6 638,255.6 655.9,258.6 664.8,267.5 655.9,282.4 644,294.2 638,313.9 430,313.9" fill="#FFF5BA"/>
<polygon points="430,264.5 447.8,270.5 474.6,276.4 489.4,285.3 504.3,300.2 519.2,313.9 430,313.9" fill="#F5E09E"/>
<polygon points="614.2,282.4 626.1,276.4 632.1,285.3 620.2,288.3" fill="#F5E09E"/>
<polygon points="638,313.9 644,294.2 655.9,282.4 664.8,267.5 667.7,255.6 676.7,240.7 697.5,234.8 727.2,231.8 742,237.8 756.9,252.6 765.8,267.5 759.9,285.3 751,297.2 742,303.2 727.2,309.1 721.2,313.9" fill="#FFFFFF"/>
<polygon points="667.7,246.7 679.6,240.7 703.4,246.7 727.2,258.6 727.2,270.5 709.3,282.4 691.5,288.3 673.7,291.3 664.8,282.4 670.7,267.5" fill="#CDFFCD"/>
<polygon points="644,313.9 649.9,303.2 667.7,300.2 676.7,313.9" fill="#CDFFCD"/>
<polygon points="756.9,214 830,214 830,313.9 742,313.9 756.9,300.2 765.8,285.3 771.8,267.5 768.8,249.7 759.9,231.8" fill="#FFF5BA"/>
<polygon points="801.5,243.7 816.3,231.8 830,231.8 830,288.3 813.4,279.4 801.5,261.5" fill="#F5E09E"/>
<polygon points="740,356.3 784.6,363.7 814.3,362.2 844,359.3 866.3,356.3 888.6,357.8 910.9,359.3 925.7,357.8 925.7,371.1 903.4,384.5 858.9,397.9 814.3,402.4 784.6,408.3 754.9,414.2 740,417.2" fill="#FFF5BA"/>
<polygon points="740,366.7 754.9,369.7 777.1,377.1 799.4,378.6 806.9,371.1 829.2,363.7 858.9,356.3 873.7,357.8 885.6,368.2 888.6,378.6 882.6,387.5 858.9,396.4 829.2,402.4 811.3,403.8 784.6,408.3 754.9,414.2 740,415.7" fill="#F5E09E"/>
<polygon points="740,383 762.3,387.5 781.6,394.9 789,402.4 777.1,408.3 754.9,412.8 740,415" fill="#F5CD84"/>
<polygon points="827.7,387.5 836.6,384.5 847,389 858.9,393.4 861.8,397.9 847,400.9 832.1,403.8 827.7,396.4" fill="#F5CD84"/>
<polygon points="740,394.9 762.3,397.9 781.6,402.4 777.1,406.8 754.9,411.3 740,412.8" fill="#E1A564"/>
<polygon points="835.1,397.9 844,395.7 855.9,397.9 844,401.6 836.6,403.1" fill="#E1A564"/>
<polygon points="740,400.9 757.8,402.4 769.7,405.3 762.3,408.3 747.4,409.8 740,410.5" fill="#CD8540"/>
<polygon points="740,403.8 748.9,404.6 754.9,406.8 745.9,408.3 740,408.3" fill="#B66A28"/>
<polygon points="740,417.2 754.9,414.2 784.6,408.3 814.3,402.4 858.9,397.9 903.4,384.5 922.8,371.1 925.7,353.3 940,348.9 940,434 740,434" fill="#99F0B2"/>
<polygon points="740,417.2 754.9,414.2 748.9,423.2 754.9,434 740,434" fill="#CDFFCD"/>
<polygon points="860,174 1060,174 1060,324.1 860,324.1" fill="#FFF5BA"/>
<polygon points="882.3,188.9 904.6,191.8 923.9,200.7 926.9,212.6 919.4,221.5 909,221.5 897.1,215.6 882.3,208.2 874.9,199.3" fill="#FFFFFF"/>
<polygon points="860,278 871.9,276.5 882.3,281 889.7,292.9 882.3,304.8 871.9,307.7 860,304.8" fill="#FFFFFF"/>
<polygon points="964,316.6 972.9,313.7 981.8,316.6 978.9,324.1 964,324.1" fill="#FFFFFF"/>
<polygon points="923.9,174 964,174 964,185.9 970,203.7 967,218.6 978.9,223 990.8,218.6 999.7,211.1 1016,208.2 1038.3,206.7 1060,203.7 1060,324.1 1008.6,324.1 1001.2,307.7 993.7,292.9 986.3,278 975.9,286.9 964,292.9 949.2,286.9 934.3,281 923.9,278 916.5,270.6 909,263.2 909,248.3 919.4,233.4 934.3,223 943.2,211.1 937.3,196.3 928.4,185.9" fill="#F5E09E"/>
<polygon points="952.1,218.6 964,215.6 975.9,223 978.9,233.4 975.9,248.3 977.4,263.2 972.9,278 967,284 961,275 958.1,260.2 955.1,245.3 953.6,233.4" fill="#F5CD84"/>
<polygon points="990.8,229 1001.2,218.6 1016,214.1 1030.9,212.6 1045.7,211.1 1060,209.7 1060,257.2 1053.2,251.3 1045.7,257.2 1038.3,263.2 1023.4,261.7 1008.6,258.7 999.7,251.3 993.7,240.9" fill="#F5CD84"/>
<polygon points="993.7,275 1001.2,269.1 1016,267.6 1030.9,269.1 1045.7,270.6 1053.2,278 1045.7,289.9 1030.9,286.9 1016,295.8 1005.6,304.8 996.7,298.8 992.2,286.9" fill="#F5CD84"/>
<polygon points="958.1,218.6 967,217.1 974.4,224.5 972.9,236.4 967,242.4 962.5,236.4 959.6,227.5" fill="#E1A564"/>
<polygon points="1014.5,243.8 1019,240.9 1023.4,246.8 1019,249.8 1014.5,248.3" fill="#E1A564"/>
<polygon points="998.2,278 1005.6,275 1010.1,284 1007.1,292.9 1001.2,292.9 998.2,285.4" fill="#E1A564"/>
<polygon points="1030.9,272.1 1041.3,273.6 1045.7,281 1038.3,286.9 1032.4,281" fill="#E1A564"/>
<polygon points="961,223 967,221.5 971.4,227.5 970,233.4 965.5,234.9 962.5,230.5" fill="#CD8540"/>
<polygon points="999.7,281 1004.1,279.5 1007.1,285.4 1004.1,289.9 1001.2,288.4" fill="#CD8540"/>
<polygon points="1033.8,275 1039.8,276.5 1042.8,282.5 1036.8,284" fill="#CD8540"/>
<polygon points="961,174 1023.4,174 1022,188.9 1010.1,199.3 993.7,209.7 983.3,212.6 972.9,206.7 967,193.3 962.5,182.9" fill="#FFFFFF"/>
<polygon points="964,174 1020.5,174 1019,185.9 1008.6,196.3 993.7,205.2 984.8,208.2 975.9,203.7 970,191.8 967,181.4" fill="#CDFFCD"/>
<polygon points="972.9,174 1008.6,174 1005.6,182.9 996.7,193.3 987.8,200.7 978.9,199.3 974.4,188.9" fill="#99F0B2"/>
<polygon points="1014.5,295.8 1023.4,291.4 1038.3,291.4 1053.2,288.4 1060,286.9 1060,324.1 1017.5,324.1 1016,307.7" fill="#CDFFCD"/>
<polygon points="1023.4,300.3 1038.3,297.3 1053.2,297.3 1060,295.8 1060,324.1 1026.4,324.1 1023.4,310.7" fill="#99F0B2"/>
<polygon points="1022.9,402.5 1029.2,385.5 1042,374.9 1056.9,368.5 1071.7,366.4 1088.7,370.6 1099.4,381.2 1105.7,398.2 1107.9,413.1 1101.5,428 1088.7,436.5 1071.7,438.6 1050.5,436.5 1033.5,428 1025,417.4" fill="#F5CD84"/>
<polygon points="1029.2,406.7 1037.7,389.7 1050.5,379.1 1063.2,372.7 1076,372.7 1088.7,379.1 1097.2,394 1099.4,411 1093,423.7 1080.2,432.2 1063.2,432.2 1046.2,428 1033.5,419.5" fill="#E1A564"/>
<polygon points="1050.5,385.5 1063.2,377 1076,377 1086.6,385.5 1093,402.5 1093,419.5 1084.5,428 1071.7,428 1061.1,421.6 1054.7,411" fill="#CD8540"/>
<polygon points="1071.7,385.5 1080.2,383.4 1088.7,394 1090.9,411 1086.6,423.7 1080.2,421.6 1076,406.7" fill="#B66A28"/>
<polygon points="1097.2,355.7 1110,351.5 1127,351.5 1139.7,360 1156.7,368.5 1178,372.7 1199.2,370.6 1220.5,368.5 1241.7,368.5 1263,370.6 1284.2,374.9 1294,377 1294,504.1 1273.6,504.1 1252.4,496 1231.1,487.5 1216.2,483.2 1199.2,479 1186.5,474.7 1173.7,466.2 1161,457.7 1148.2,449.2 1135.5,445 1122.7,440.7 1110,436.5 1101.5,428 1099.4,411 1101.5,394 1099.4,377" fill="#F5E09E"/>
<polygon points="1110,357.9 1127,355.7 1139.7,364.2 1156.7,374.9 1178,381.2 1199.2,381.2 1220.5,381.2 1241.7,383.4 1263,387.6 1284.2,394 1294,396.1 1294,487.5 1280,483.2 1263,476.9 1241.7,466.2 1220.5,466.2 1207.7,474.7 1195,470.5 1182.2,462 1169.5,455.6 1156.7,449.2 1144,440.7 1131.2,436.5 1118.5,432.2 1110,423.7 1107.9,406.7 1110,389.7 1107.9,372.7" fill="#F5CD84"/>
<polygon points="1114.2,364.2 1127,362.1 1139.7,370.6 1152.5,381.2 1169.5,389.7 1190.7,394 1212,396.1 1233.2,400.4 1254.5,406.7 1275.7,413.1 1294,417.4 1294,466.2 1280,462 1263,457.7 1246,451.4 1229,453.5 1216.2,462 1203.5,462 1190.7,453.5 1178,449.2 1165.2,442.9 1152.5,436.5 1139.7,432.2 1127,428 1116.4,421.6 1114.2,406.7 1116.4,389.7 1114.2,374.9" fill="#E1A564"/>
<polygon points="1127,374.9 1139.7,379.1 1152.5,387.6 1165.2,398.2 1182.2,406.7 1203.5,411 1224.7,415.2 1246,421.6 1267.2,425.9 1294,430.1 1294,455.6 1280,453.5 1263,447.1 1246,442.9 1231.1,442.9 1218.4,449.2 1205.6,451.4 1192.9,445 1180.1,440.7 1167.4,434.4 1154.6,428 1141.9,423.7 1131.2,419.5 1127,406.7 1129.1,391.9" fill="#CD8540"/>
<polygon points="1144,385.5 1156.7,389.7 1169.5,402.5 1175.9,419.5 1171.6,430.1 1161,428 1152.5,419.5 1146.1,404.6" fill="#B66A28"/>
<polygon points="1190.7,423.7 1203.5,428 1212,440.7 1216.2,457.7 1212,470.5 1203.5,466.2 1195,455.6 1190.7,440.7" fill="#B66A28"/>
<polygon points="1252.4,428 1273.6,432.2 1294,434.4 1294,449.2 1275.7,447.1 1258.7,442.9 1250.2,436.5" fill="#B66A28"/>
<polygon points="1263,466.2 1275.7,470.5 1284.2,483.2 1294,489.6 1294,500.2 1282.1,496 1269.4,483.2" fill="#B66A28"/>
<polygon points="1105.7,374.9 1114.2,368.5 1127,372.7 1135.5,385.5 1131.2,398.2 1118.5,402.5 1107.9,394" fill="#FFFFFF"/>
<use href="#coast"/>
<use href="#purple"/>
<path d="M233.9,59.7L256.2,59.7M246.2,54.6L256.2,59.7M246.2,64.8L256.2,59.7M300.9,61.9L331.7,57.6M318.1,52.9L331.7,57.6M319.9,65.9L331.7,57.6M373.1,55.5L407.1,56.6M393.6,49.1L407.1,56.6M393.1,63.1L407.1,56.6M207.4,78.9L218,78.9M211.7,75.7L218,78.9M211.7,82.1L218,78.9M260.5,98L273.2,96.9M266,94L273.2,96.9M266.6,101L273.2,96.9M354,82.1L366.7,82.1M359.8,78.5L366.7,82.1M359.8,85.6L366.7,82.1M411.4,85.2L436,81M424.3,77.4L436,81M426.2,88.3L436,81M388,108.6L398.6,108.6M392.3,105.4L398.6,108.6M392.3,111.8L398.6,108.6M409.2,234L391.2,243.5M401.7,243.4L391.2,243.5M397.2,234.9L391.2,243.5M382.7,262.7L359.3,275M372,274.8L359.3,275M366.6,264.6L359.3,275M491.2,58.7L517.8,52.3M505.1,49.3L517.8,52.3M507.9,60.8L517.8,52.3M454.1,75.7L480.6,74.6M469,69.3L480.6,74.6M469.5,80.9L480.6,74.6M584.7,51.2L603.9,49.1M594.4,45.6L603.9,49.1M595.4,54.7L603.9,49.1M541.2,67.2L568.8,60.8M555.8,57.6L568.8,60.8M558.5,69.4L568.8,60.8M515.7,96.9L533.7,90.6M523.7,89.2L533.7,90.6M526.8,97.9L533.7,90.6M694.2,55.5L705.9,55.5M699.3,52.1L705.9,55.5M699.3,58.9L705.9,55.5M468.9,190.4L456.2,201M465.1,199L456.2,201M459.8,192.6L456.2,201M448.7,219.1L437.1,235M446.3,230.4L437.1,235M438.7,224.9L437.1,235M497.6,221.2L485.9,227.6M493.9,227.4L485.9,227.6M490.4,221L485.9,227.6M595.4,232.9L595.4,223.4M592.3,229.3L595.4,223.4M598.4,229.3L595.4,223.4M475.3,248.9L467.9,268M475.8,260.9L467.9,268M466.8,257.4L467.9,268M714.4,228.7L720.7,246.7M722.1,236.7L720.7,246.7M713.4,239.8L720.7,246.7M747.5,49.1L739,53.4M745.6,53.4L739,53.4M742.9,48L739,53.4M739,194.7L739,214.9M743.8,205.5L739,214.9M734.2,205.5L739,214.9M753.9,259.5L743.2,280.7M752.7,273.7L743.2,280.7M743.2,269L743.2,280.7M1002.5,251L981.2,263.7M993.3,262.9L981.2,263.7M987.7,253.5L981.2,263.7M1117.4,136.2L1120.6,159.6M1124.5,148.6L1120.6,159.6M1113.9,150L1120.6,159.6M1101.5,171.3L1090.9,191.5M1100.2,184.9L1090.9,191.5M1091,180.1L1090.9,191.5M1147.2,172.4L1133.4,197.9M1144.6,190.1L1133.4,197.9M1133.7,184.2L1133.4,197.9M1069.6,193.6L1049.4,207.4M1061.3,205.9L1049.4,207.4M1055.2,196.9L1049.4,207.4M1128.1,205.3L1103.6,232.9M1118.9,226.9L1103.6,232.9M1107.7,217L1103.6,232.9M1178,153.2L1169.5,167.1M1177.2,162.3L1169.5,167.1M1170.2,158L1169.5,167.1M1169.5,214.9L1152.5,231.9M1163.8,228.2L1152.5,231.9M1156.2,220.6L1152.5,231.9M1095.1,226.5L1062.2,251M1079.4,248.1L1062.2,251M1070,235.3L1062.2,251M1059,246.7L1026.1,269M1043.4,266.9L1026.1,269M1034.5,253.7L1026.1,269M1110,269L1093,280.7M1103.5,279.3L1093,280.7M1098.1,271.4L1093,280.7M373.1,276.1L358.2,276.1M365.9,279.9L358.2,276.1M365.9,272.2L358.2,276.1M443.2,272.9L419.9,280.3M431.7,282.3L419.9,280.3M428.4,271.9L419.9,280.3M209.5,293.1L188.2,292M197.7,297.4L188.2,292M198.2,287.6L188.2,292M351.9,283.5L312.5,290.9M329.3,295.8L312.5,290.9M326.4,280.2L312.5,290.9M307.2,298.4L277.5,301.6M290.5,306.5L277.5,301.6M289.2,293.9L277.5,301.6M263.7,302.6L233.9,303.7M246.5,309.6L233.9,303.7M246.1,296.9L233.9,303.7M419.9,286.7L379.5,312.2M396.9,310.6L379.5,312.2M388.4,297.1L379.5,312.2M202.1,318.6L141.5,333.4M158.5,337.4L141.5,333.4M154.7,322L141.5,333.4M354,311.1L333.8,326M345.9,324L333.8,326M339.3,315.1L333.8,326M373.1,314.3L300.9,335.6M318.1,338.8L300.9,335.6M313.6,323.5L300.9,335.6M436,328.1L416.7,333.4M426.9,335.5L416.7,333.4M424.4,326.4L416.7,333.4M415.6,348.3L372,353.6M388.5,359.6L372,353.6M386.6,343.8L372,353.6M381.6,356.8L326.4,366.4M343.1,371.5L326.4,366.4M340.4,355.9L326.4,366.4M323.2,355.7L261.6,363.2M278,369.2L261.6,363.2M276.1,353.4L261.6,363.2M224.4,362.1L158.5,364.2M174.3,371.7L158.5,364.2M173.8,355.8L158.5,364.2M265.8,382.3L206.3,380.2M221.6,388.7L206.3,380.2M222.2,372.8L206.3,380.2M434.7,383.4L399.7,382.3M413.5,389.9L399.7,382.3M414,375.5L399.7,382.3M345.5,390.8L300.9,390.8M316.5,398.7L300.9,390.8M316.5,382.9L300.9,390.8M396.5,396.1L356.1,395.1M371.5,403.4L356.1,395.1M371.9,387.5L356.1,395.1M186.1,400.4L152.1,397.2M165.2,405.5L152.1,397.2M166.5,391.5L152.1,397.2M227.6,418.4L195.7,411M207.1,420.6L195.7,411M210.2,407.4L195.7,411M312.5,425.9L273.2,416.3M286.5,427.7L273.2,416.3M290.3,412.3L273.2,416.3M362.5,428L330.6,422.7M342.5,431.5L330.6,422.7M344.8,418.2L330.6,422.7M396.5,437.5L383.7,436.5M390.4,440.6L383.7,436.5M391,433.5L383.7,436.5M169.1,445L145.8,438.6M154.6,446.6L145.8,438.6M157.4,436.2L145.8,438.6M213.7,459.9L176.6,445M188.1,458.2L176.6,445M194,443.4L176.6,445M263.7,455.6L220.1,441.8M232.6,454.1L220.1,441.8M237.4,438.9L220.1,441.8M333.8,462L297.7,451.4M309.9,462.9L297.7,451.4M314.1,448.3L297.7,451.4M365.7,469.4L355,464.1M359.5,470.1L355,464.1M362.5,464.1L355,464.1M296.6,486.4L284.9,486.4M291.5,489.8L284.9,486.4M291.5,483.1L284.9,486.4M467.9,280.3L447.7,315.4M462.4,305.8L447.7,315.4M448.6,297.9L447.7,315.4M514.6,290.9L497.6,306.9M508.8,303.6L497.6,306.9M501.6,296L497.6,306.9M445.6,324.9L431.8,331.3M440.4,331.6L431.8,331.3M437.1,324.5L431.8,331.3M492.3,321.7L474.2,344.1M486.6,338.5L474.2,344.1M477.1,330.8L474.2,344.1M471.1,361.1L438.1,367.4M452.8,371.7L438.1,367.4M450.2,358L438.1,367.4M582.6,323.9L561.4,307.9M567,319.4L561.4,307.9M573.9,310.1L561.4,307.9M612.4,347.2L585.8,349.4M597.6,354.2L585.8,349.4M596.7,342.7L585.8,349.4M563.5,368.5L548.6,357.9M553.1,366.5L548.6,357.9M558.3,359.3L548.6,357.9M514.6,363.2L489.1,381.2M503.4,379.2L489.1,381.2M495.8,368.4L489.1,381.2M550.7,404.6L519.9,395.1M530.5,405.4L519.9,395.1M534.5,392.5L519.9,395.1M478.5,392.9L462.6,409.9M473.5,406L462.6,409.9M465.8,398.8L462.6,409.9M602.8,386.6L587.9,404.6M598.6,400L587.9,404.6M590.4,393.3L587.9,404.6M714.4,299.4L667.6,330.2M685,328.3L667.6,330.2M676.3,315L667.6,330.2M733.5,304.7L710.1,317.5M722.9,317.1L710.1,317.5M717.3,306.9L710.1,317.5M672.9,310.1L640,363.2M655,354.1L640,363.2M641.4,345.7L640,363.2M644.2,364.2L624,398.2M638.8,388.9L624,398.2M625.2,380.8L624,398.2M708,341.9Q691,360 691,377M698.8,361.6L691,377M683.2,361.6L691,377M670.8,377L680.4,404.6M682.2,391L680.4,404.6M670.5,395.1L680.4,404.6M683.5,420.5L709,428M699.7,419.2L709,428M696.5,430.4L709,428M664.4,455.6L674,457.7M668.8,453.5L674,457.7M667.5,459.4L674,457.7M733.5,454.5L716.5,454.5M724.8,458.8L716.5,454.5M724.8,450.3L716.5,454.5M697.4,480L708,481.1M702,477.3L708,481.1M701.4,483.7L708,481.1M705.9,380.2Q716.5,389.7 729.2,394M720.1,384.7L729.2,394M716.4,395.9L729.2,394M684.6,281.4L698.4,277.1M690.1,275.7L698.4,277.1M692.4,283L698.4,277.1M757.1,304.7L715.6,317.5M732.9,320.5L715.6,317.5M728.2,305.3L715.6,317.5M790,324.9L758.1,320.7M770.3,329.1L758.1,320.7M772.1,315.8L758.1,320.7M750.7,344.1L731.6,357.9M743.1,356.1L731.6,357.9M736.9,347.5L731.6,357.9M807,353.6L795.3,354M802,357.2L795.3,354M801.8,350.4L795.3,354M875,281.4L862.2,304.7M872.8,297.5L862.2,304.7M862.6,292L862.2,304.7M898.4,320.7L889.9,335.6M897.7,330.4L889.9,335.6M890.3,326.2L889.9,335.6M922.8,283.5L900.5,287.7M911.4,290.9L900.5,287.7M909.5,280.8L900.5,287.7M966.4,275L944,279.2M955,282.4L944,279.2M953,272.3L944,279.2M991.9,304.7L970.6,317.5M982.7,316.7L970.6,317.5M977,307.2L970.6,317.5M947.2,318.6L929.2,319.6M938.1,323.5L929.2,319.6M937.6,314.7L929.2,319.6M1015.2,347.2L998.2,345.1M1006,350.4L998.2,345.1M1007,341.9L998.2,345.1M765.6,388.7L808.1,395.1M793.8,384.9L808.1,395.1M791.5,400.6L808.1,395.1M717.8,387.6L734.7,396.1M728.8,388L734.7,396.1M724.7,396.2L734.7,396.1M846.3,395.1L901.5,391.9M885.5,384.8L901.5,391.9M886.4,400.7L901.5,391.9M885.6,381.2L943,375.9M926.7,369.5L943,375.9M928.2,385.3L943,375.9M931.3,362.1L972.7,361.1M956.9,353.5L972.7,361.1M957.3,369.4L972.7,361.1M733.7,419.5L773,417.4M757.1,410.3L773,417.4M758,426.1L773,417.4M815.5,416.3L860.1,418.4M844.9,409.7L860.1,418.4M844.2,425.6L860.1,418.4M887.7,430.1L928.1,414.2M910.7,412.5L928.1,414.2M916.5,427.3L928.1,414.2M929.2,415.2Q955.7,415.2 973.8,421.6M961.7,408.9L973.8,421.6M956.4,423.9L973.8,421.6M958.9,383.4L1008,394M994.4,382.9L1008,394M991.1,398.5L1008,394M992.9,415.2L1015.2,423.7M1007.3,415L1015.2,423.7M1003.5,425L1015.2,423.7M779.4,433.3L814.4,434.4M800.6,426.8L814.4,434.4M800.1,441.1L814.4,434.4M715.6,453.5L743.2,450.3M730.9,445.7L743.2,450.3M732.2,457.6L743.2,450.3M856.9,449.2L885.6,438.6M871.5,437L885.6,438.6M876,449.1L885.6,438.6M815.5,462L845.2,457.7M832,453.2L845.2,457.7M833.8,465.8L845.2,457.7M766.6,475.8L794.2,468.4M781,465.6L794.2,468.4M784.2,477.4L794.2,468.4M886.7,484.3L902.6,473.7M892.6,474.8L902.6,473.7M897.7,482.5L902.6,473.7M741.1,490.7L750.7,491.7M745.1,488.1L750.7,491.7M744.5,494.1L750.7,491.7M809.1,493.9L820.8,494.9M814.5,491L820.8,494.9M813.9,497.7L820.8,494.9M852.7,493.9L864.4,494.9M858.1,491L864.4,494.9M857.5,497.7L864.4,494.9M1031.4,279.2L1008,298.4M1021.7,295.4L1008,298.4M1013.7,285.5L1008,298.4M1101.5,275L1088.7,284.6M1097.5,283L1088.7,284.6M1092.7,276.5L1088.7,284.6M1071.7,287.7L1053.7,305.8M1065.5,302L1053.7,305.8M1057.5,294L1053.7,305.8M1039.9,322.8Q1043.1,330.2 1040.9,338.7M1046.8,332L1040.9,338.7M1038.9,330L1040.9,338.7M1124.9,310.1L1136.6,312.2M1130.6,307.7L1136.6,312.2M1129.4,314.3L1136.6,312.2M1209.9,301.6L1237.5,298.4M1225.1,293.8L1237.5,298.4M1226.5,305.7L1237.5,298.4M1253.4,289.9L1275.7,287.7M1265.2,283.6L1275.7,287.7M1266.2,293.8L1275.7,287.7M1169.5,324.9L1204.5,319.6M1189.4,314.6L1204.5,319.6M1191.6,328.9L1204.5,319.6M1266.2,327.1L1301.2,326M1286.9,319.2L1301.2,326M1287.3,333.6L1301.2,326M1076,328.1L1103.6,331.3M1092.6,324L1103.6,331.3M1091.2,335.9L1103.6,331.3M1128.1,346.2L1172.7,344.1M1156.7,336.9L1172.7,344.1M1157.5,352.7L1172.7,344.1M1223.7,339.8L1258.7,336.6M1244,330.7L1258.7,336.6M1245.3,345.1L1258.7,336.6M1183.3,362.1L1223.7,360M1207.7,352.9L1223.7,360M1208.5,368.7L1223.7,360M1037.7,362.1L1095.1,365.3M1080,356.5L1095.1,365.3M1079.1,372.4L1095.1,365.3M1073.9,374.9L1139.7,367.4M1123.4,361.3L1139.7,367.4M1125.1,377.1L1139.7,367.4M1268.3,368.5L1301.2,368.5M1287.8,361.7L1301.2,368.5M1287.8,375.3L1301.2,368.5M1008,377L1055.8,384.4M1041.6,374.2L1055.8,384.4M1039.2,389.9L1055.8,384.4M1142.9,383.4L1190.7,384.4M1175.3,376.1L1190.7,384.4M1175,392L1190.7,384.4M1226.9,379.1L1261.9,380.2M1248,372.6L1261.9,380.2M1247.6,386.9L1261.9,380.2M1065.4,401.4L1113.2,403.6M1098,394.9L1113.2,403.6M1097.2,410.8L1113.2,403.6M1185.4,401.4L1227.9,404.6M1213,395.5L1227.9,404.6M1211.8,411.4L1227.9,404.6M1272.5,408.9L1301.2,411M1289.6,404L1301.2,411M1288.7,416.2L1301.2,411M1008,424.8L1026.1,424.8M1017.4,420.4L1026.1,424.8M1017.4,429.2L1026.1,424.8M1037.7,419.5L1067.5,423.7M1056,415.7L1067.5,423.7M1054.2,428.3L1067.5,423.7M1152.5,424.8L1187.5,426.9M1173.9,418.9L1187.5,426.9M1173,433.3L1187.5,426.9M1231.1,419.5L1270.4,424.8M1256,414.8L1270.4,424.8M1253.9,430.6L1270.4,424.8M1095.1,439.7L1116.4,440.7M1106.9,435.3L1116.4,440.7M1106.5,445.2L1116.4,440.7M1199.2,442.9L1227.9,447.1M1216.8,439.2L1227.9,447.1M1215,451.5L1227.9,447.1M1273.6,450.3L1301.2,452.4M1290,445.6L1301.2,452.4M1289.1,457.5L1301.2,452.4M1022.9,457.7L1033.5,459.9M1027.9,455.5L1033.5,459.9M1026.7,461.8L1033.5,459.9M1066.4,456.7L1078.1,458.8M1072.2,454.3L1078.1,458.8M1071,460.9L1078.1,458.8M1145.1,457.7L1156.7,459.9M1150.8,455.3L1156.7,459.9M1149.6,462L1156.7,459.9M1237.5,460.9L1264,467.3M1254.1,458.8L1264,467.3M1251.4,470.3L1264,467.3M1196,481.1L1207.7,482.2M1201.4,478.2L1207.7,482.2M1200.8,484.9L1207.7,482.2" fill="none" stroke="#808080" stroke-width="3.3" stroke-linecap="round" stroke-linejoin="round"/>
</g></g>
<line x1="129.5" y1="771.3" x2="150" y2="771.3" stroke="#000" stroke-width="3.4" stroke-linecap="round"/>
<text x="107.5" y="783.5" font-size="34.5" text-anchor="end" fill="#000" >45°N</text>
<line x1="129.5" y1="885.5" x2="150" y2="885.5" stroke="#000" stroke-width="3.4" stroke-linecap="round"/>
<text x="107.5" y="897.7" font-size="34.5" text-anchor="end" fill="#000" >30°N</text>
<line x1="129.5" y1="999.6" x2="150" y2="999.6" stroke="#000" stroke-width="3.4" stroke-linecap="round"/>
<text x="107.5" y="1011.8" font-size="34.5" text-anchor="end" fill="#000" >15°N</text>
<line x1="129.5" y1="1113.7" x2="150" y2="1113.7" stroke="#000" stroke-width="3.4" stroke-linecap="round"/>
<text x="107.5" y="1125.9" font-size="34.5" text-anchor="end" fill="#000" >0°</text>
<line x1="284.4" y1="1189.8" x2="284.4" y2="1209.5" stroke="#000" stroke-width="3.4" stroke-linecap="round"/>
<text x="284.4" y="1259.5" font-size="34.5" text-anchor="middle" fill="#000" >0°</text>
<line x1="486.1" y1="1189.8" x2="486.1" y2="1209.5" stroke="#000" stroke-width="3.4" stroke-linecap="round"/>
<text x="486.1" y="1259.5" font-size="34.5" text-anchor="middle" fill="#000" >30°E</text>
<line x1="687.7" y1="1189.8" x2="687.7" y2="1209.5" stroke="#000" stroke-width="3.4" stroke-linecap="round"/>
<text x="687.7" y="1259.5" font-size="34.5" text-anchor="middle" fill="#000" >60°E</text>
<line x1="889.3" y1="1189.8" x2="889.3" y2="1209.5" stroke="#000" stroke-width="3.4" stroke-linecap="round"/>
<text x="889.3" y="1259.5" font-size="34.5" text-anchor="middle" fill="#000" >90°E</text>
<line x1="1091" y1="1189.8" x2="1091" y2="1209.5" stroke="#000" stroke-width="3.4" stroke-linecap="round"/>
<text x="1091" y="1259.5" font-size="34.5" text-anchor="middle" fill="#000" >120°E</text>
<line x1="1292.6" y1="1189.8" x2="1292.6" y2="1209.5" stroke="#000" stroke-width="3.4" stroke-linecap="round"/>
<text x="1292.6" y="1259.5" font-size="34.5" text-anchor="middle" fill="#000" >150°E</text>
<rect x="150.0" y="733.3" width="1142.6" height="456.5" fill="none" stroke="#000" stroke-width="3.4" stroke-linejoin="round"/>
<text x="146.2" y="722.4" font-size="48.5" text-anchor="start" fill="#000" >(b) Constrained - Unconstrained</text>
<rect x="201.3" y="1268.9" width="103.3" height="31.5" fill="#B66A28"/>
<rect x="304.1" y="1268.9" width="103.3" height="31.5" fill="#CD8540"/>
<rect x="406.9" y="1268.9" width="103.3" height="31.5" fill="#E1A564"/>
<rect x="509.7" y="1268.9" width="103.3" height="31.5" fill="#F5CD84"/>
<rect x="612.5" y="1268.9" width="103.3" height="31.5" fill="#F5E09E"/>
<rect x="715.4" y="1268.9" width="103.3" height="31.5" fill="#FFF5BA"/>
<rect x="818.2" y="1268.9" width="103.3" height="31.5" fill="#FFFFFF"/>
<rect x="921" y="1268.9" width="103.3" height="31.5" fill="#CDFFCD"/>
<rect x="1023.8" y="1268.9" width="103.3" height="31.5" fill="#99F0B2"/>
<line x1="304.1" y1="1268.9" x2="304.1" y2="1300.4" stroke="#000" stroke-width="2"/>
<line x1="406.9" y1="1268.9" x2="406.9" y2="1300.4" stroke="#000" stroke-width="2"/>
<line x1="509.7" y1="1268.9" x2="509.7" y2="1300.4" stroke="#000" stroke-width="2"/>
<line x1="612.5" y1="1268.9" x2="612.5" y2="1300.4" stroke="#000" stroke-width="2"/>
<line x1="715.4" y1="1268.9" x2="715.4" y2="1300.4" stroke="#000" stroke-width="2"/>
<line x1="818.2" y1="1268.9" x2="818.2" y2="1300.4" stroke="#000" stroke-width="2"/>
<line x1="921" y1="1268.9" x2="921" y2="1300.4" stroke="#000" stroke-width="2"/>
<line x1="1023.8" y1="1268.9" x2="1023.8" y2="1300.4" stroke="#000" stroke-width="2"/>
<rect x="201.3" y="1268.9" width="925.3" height="31.5" fill="none" stroke="#000" stroke-width="2.2"/>
<text x="304.1" y="1333.6" font-size="34.5" text-anchor="middle" fill="#000" >-150</text>
<text x="406.9" y="1333.6" font-size="34.5" text-anchor="middle" fill="#000" >-100</text>
<text x="509.7" y="1333.6" font-size="34.5" text-anchor="middle" fill="#000" >-70</text>
<text x="612.5" y="1333.6" font-size="34.5" text-anchor="middle" fill="#000" >-50</text>
<text x="715.4" y="1333.6" font-size="34.5" text-anchor="middle" fill="#000" >-30</text>
<text x="818.2" y="1333.6" font-size="34.5" text-anchor="middle" fill="#000" >-10</text>
<text x="921" y="1333.6" font-size="34.5" text-anchor="middle" fill="#000" >10</text>
<text x="1023.8" y="1333.6" font-size="34.5" text-anchor="middle" fill="#000" >30</text>
<text x="1311" y="1288" font-size="27.5" text-anchor="middle" fill="#000" >.5</text>
<line x1="1277.5" y1="1306.2" x2="1342" y2="1306.2" stroke="#000" stroke-width="3.6" stroke-linecap="round"/>
<polyline points="1328,1299.2 1343.5,1306.2 1328,1313.2" fill="none" stroke="#000" stroke-width="4.6" stroke-linecap="round" stroke-linejoin="round"/>
<polygon points="207.1,1893.9 207.1,1893.9 264.3,1893.9 264.3,1893.9 321.4,1893.9 321.4,1878 378.6,1878 378.6,1878 435.7,1878 435.7,1814.7 492.8,1814.7 492.8,1783 550,1783 550,1703.9 607.1,1703.9 607.1,1608.9 664.3,1608.9 664.3,1529.7 721.4,1529.7 721.4,1545.6 778.5,1545.6 778.5,1561.4 835.7,1561.4 835.7,1640.5 892.8,1640.5 892.8,1751.4 950,1751.4 950,1798.9 1007.1,1798.9 1007.1,1846.4 1064.2,1846.4 1064.2,1862.2 1121.4,1862.2 1121.4,1862.2 1178.5,1862.2 1178.5,1862.2 1235.7,1862.2 1235.7,1893.9" fill="#D6D6D6"/>
<polygon points="150,1893.9 150,1893.9 207.1,1893.9 207.1,1878 264.3,1878 264.3,1862.2 321.4,1862.2 321.4,1862.2 378.6,1862.2 378.6,1830.5 435.7,1830.5 435.7,1783 492.8,1783 492.8,1672.2 550,1672.2 550,1608.9 607.1,1608.9 607.1,1529.7 664.3,1529.7 664.3,1498.1 721.4,1498.1 721.4,1529.7 778.5,1529.7 778.5,1656.4 835.7,1656.4 835.7,1735.5 892.8,1735.5 892.8,1814.7 950,1814.7 950,1878 1007.1,1878 1007.1,1893.9 1064.2,1893.9 1064.2,1893.9 1121.4,1893.9 1121.4,1893.9 1178.5,1893.9 1178.5,1893.9 1235.7,1893.9 1235.7,1893.9 1292.8,1893.9 1292.8,1893.9" fill="#8FC3DE" fill-opacity="0.62"/>
<polyline points="207.1,1893.9 264.3,1893.9 264.3,1893.9 321.4,1893.9 321.4,1878 378.6,1878 378.6,1878 435.7,1878 435.7,1814.7 492.8,1814.7 492.8,1783 550,1783 550,1703.9 607.1,1703.9 607.1,1608.9 664.3,1608.9 664.3,1529.7 721.4,1529.7 721.4,1545.6 778.5,1545.6 778.5,1561.4 835.7,1561.4 835.7,1640.5 892.8,1640.5 892.8,1751.4 950,1751.4 950,1798.9 1007.1,1798.9 1007.1,1846.4 1064.2,1846.4 1064.2,1862.2 1121.4,1862.2 1121.4,1862.2 1178.5,1862.2 1178.5,1862.2 1235.7,1862.2 1235.7,1893.9" fill="none" stroke="#000" stroke-width="7.2" stroke-linejoin="round"/>
<polyline points="150,1893.9 207.1,1893.9 207.1,1878 264.3,1878 264.3,1862.2 321.4,1862.2 321.4,1862.2 378.6,1862.2 378.6,1830.5 435.7,1830.5 435.7,1783 492.8,1783 492.8,1672.2 550,1672.2 550,1608.9 607.1,1608.9 607.1,1529.7 664.3,1529.7 664.3,1498.1 721.4,1498.1 721.4,1529.7 778.5,1529.7 778.5,1656.4 835.7,1656.4 835.7,1735.5 892.8,1735.5 892.8,1814.7 950,1814.7 950,1878 1007.1,1878 1007.1,1893.9 1064.2,1893.9 1064.2,1893.9 1121.4,1893.9 1121.4,1893.9 1178.5,1893.9 1178.5,1893.9 1235.7,1893.9 1235.7,1893.9 1292.8,1893.9" fill="none" stroke="#6FA1CF" stroke-width="7.2" stroke-linejoin="round" stroke-linecap="round"/>
<line x1="150.5" y1="1893.9" x2="1292" y2="1893.9" stroke="#000" stroke-width="2.2" stroke-dasharray="26 12.5"/>
<rect x="150.0" y="1418.9" width="1142.8" height="498.7" fill="none" stroke="#000" stroke-width="3.2"/>
<line x1="135.5" y1="1917.6" x2="150" y2="1917.6" stroke="#000" stroke-width="2.2"/>
<line x1="121" y1="1893.9" x2="150" y2="1893.9" stroke="#000" stroke-width="3.4" stroke-linecap="round"/>
<text x="98.5" y="1906.1" font-size="34.5" text-anchor="end" fill="#000" >0</text>
<line x1="135.5" y1="1870.1" x2="150" y2="1870.1" stroke="#000" stroke-width="2.2"/>
<line x1="135.5" y1="1846.4" x2="150" y2="1846.4" stroke="#000" stroke-width="2.2"/>
<line x1="135.5" y1="1822.6" x2="150" y2="1822.6" stroke="#000" stroke-width="2.2"/>
<line x1="121" y1="1798.9" x2="150" y2="1798.9" stroke="#000" stroke-width="3.4" stroke-linecap="round"/>
<text x="98.5" y="1811.1" font-size="34.5" text-anchor="end" fill="#000" >4</text>
<line x1="135.5" y1="1775.1" x2="150" y2="1775.1" stroke="#000" stroke-width="2.2"/>
<line x1="135.5" y1="1751.4" x2="150" y2="1751.4" stroke="#000" stroke-width="2.2"/>
<line x1="135.5" y1="1727.6" x2="150" y2="1727.6" stroke="#000" stroke-width="2.2"/>
<line x1="121" y1="1703.9" x2="150" y2="1703.9" stroke="#000" stroke-width="3.4" stroke-linecap="round"/>
<text x="98.5" y="1716.1" font-size="34.5" text-anchor="end" fill="#000" >8</text>
<line x1="135.5" y1="1680.1" x2="150" y2="1680.1" stroke="#000" stroke-width="2.2"/>
<line x1="135.5" y1="1656.4" x2="150" y2="1656.4" stroke="#000" stroke-width="2.2"/>
<line x1="135.5" y1="1632.6" x2="150" y2="1632.6" stroke="#000" stroke-width="2.2"/>
<line x1="121" y1="1608.9" x2="150" y2="1608.9" stroke="#000" stroke-width="3.4" stroke-linecap="round"/>
<text x="98.5" y="1621.1" font-size="34.5" text-anchor="end" fill="#000" >12</text>
<line x1="135.5" y1="1585.1" x2="150" y2="1585.1" stroke="#000" stroke-width="2.2"/>
<line x1="135.5" y1="1561.4" x2="150" y2="1561.4" stroke="#000" stroke-width="2.2"/>
<line x1="135.5" y1="1537.6" x2="150" y2="1537.6" stroke="#000" stroke-width="2.2"/>
<line x1="121" y1="1513.9" x2="150" y2="1513.9" stroke="#000" stroke-width="3.4" stroke-linecap="round"/>
<text x="98.5" y="1526.1" font-size="34.5" text-anchor="end" fill="#000" >16</text>
<line x1="135.5" y1="1490.1" x2="150" y2="1490.1" stroke="#000" stroke-width="2.2"/>
<line x1="135.5" y1="1466.4" x2="150" y2="1466.4" stroke="#000" stroke-width="2.2"/>
<line x1="135.5" y1="1442.6" x2="150" y2="1442.6" stroke="#000" stroke-width="2.2"/>
<line x1="121" y1="1418.9" x2="150" y2="1418.9" stroke="#000" stroke-width="3.4" stroke-linecap="round"/>
<text x="98.5" y="1431.1" font-size="34.5" text-anchor="end" fill="#000" >20</text>
<line x1="150" y1="1917.6" x2="150" y2="1945.5" stroke="#000" stroke-width="3.4" stroke-linecap="round"/>
<text x="150" y="1994.5" font-size="34.5" text-anchor="middle" fill="#000" >-4.0</text>
<line x1="221.4" y1="1917.6" x2="221.4" y2="1931.5" stroke="#000" stroke-width="2.2"/>
<line x1="292.9" y1="1917.6" x2="292.9" y2="1931.5" stroke="#000" stroke-width="2.2"/>
<line x1="364.3" y1="1917.6" x2="364.3" y2="1931.5" stroke="#000" stroke-width="2.2"/>
<line x1="435.7" y1="1917.6" x2="435.7" y2="1945.5" stroke="#000" stroke-width="3.4" stroke-linecap="round"/>
<text x="435.7" y="1994.5" font-size="34.5" text-anchor="middle" fill="#000" >-2.0</text>
<line x1="507.1" y1="1917.6" x2="507.1" y2="1931.5" stroke="#000" stroke-width="2.2"/>
<line x1="578.5" y1="1917.6" x2="578.5" y2="1931.5" stroke="#000" stroke-width="2.2"/>
<line x1="650" y1="1917.6" x2="650" y2="1931.5" stroke="#000" stroke-width="2.2"/>
<line x1="721.4" y1="1917.6" x2="721.4" y2="1945.5" stroke="#000" stroke-width="3.4" stroke-linecap="round"/>
<text x="721.4" y="1994.5" font-size="34.5" text-anchor="middle" fill="#000" >0.0</text>
<line x1="792.8" y1="1917.6" x2="792.8" y2="1931.5" stroke="#000" stroke-width="2.2"/>
<line x1="864.2" y1="1917.6" x2="864.2" y2="1931.5" stroke="#000" stroke-width="2.2"/>
<line x1="935.7" y1="1917.6" x2="935.7" y2="1931.5" stroke="#000" stroke-width="2.2"/>
<line x1="1007.1" y1="1917.6" x2="1007.1" y2="1945.5" stroke="#000" stroke-width="3.4" stroke-linecap="round"/>
<text x="1007.1" y="1994.5" font-size="34.5" text-anchor="middle" fill="#000" >2.0</text>
<line x1="1078.5" y1="1917.6" x2="1078.5" y2="1931.5" stroke="#000" stroke-width="2.2"/>
<line x1="1149.9" y1="1917.6" x2="1149.9" y2="1931.5" stroke="#000" stroke-width="2.2"/>
<line x1="1221.4" y1="1917.6" x2="1221.4" y2="1931.5" stroke="#000" stroke-width="2.2"/>
<line x1="1292.8" y1="1917.6" x2="1292.8" y2="1945.5" stroke="#000" stroke-width="3.4" stroke-linecap="round"/>
<text x="1292.8" y="1994.5" font-size="34.5" text-anchor="middle" fill="#000" >4.0</text>
<text x="148" y="1395.2" font-size="48.5" text-anchor="start" fill="#000" >(c)</text>
<text x="1295" y="1404.5" font-size="36.5" text-anchor="end" fill="#000" >10%</text>
<text x="31.3" y="1668.3" font-size="43" text-anchor="middle" transform="rotate(-90 31.3 1668.3)">PDF</text>
<text x="720.5" y="2055.3" font-size="43" text-anchor="middle" fill="#000" >PC1</text>
<line x1="955" y1="1477.7" x2="1017" y2="1477.7" stroke="#8FC3DE" stroke-width="9.2" stroke-linecap="round"/>
<line x1="955" y1="1544.9" x2="1017" y2="1544.9" stroke="#000" stroke-width="9.2" stroke-linecap="round"/>
<text x="1041" y="1489.8" font-size="34" text-anchor="start" fill="#000" >Constrained</text>
<text x="1041" y="1556.6" font-size="34" text-anchor="start" fill="#000" >Unconstrained</text>
<text x="303" y="1534.5" font-size="43" text-anchor="start" fill="#6FA1CF" >(-0.60, 0.80)</text>
<text x="827" y="1534.3" font-size="43" text-anchor="start" fill="#000" >(0, 1)</text>
</svg></body></html>
